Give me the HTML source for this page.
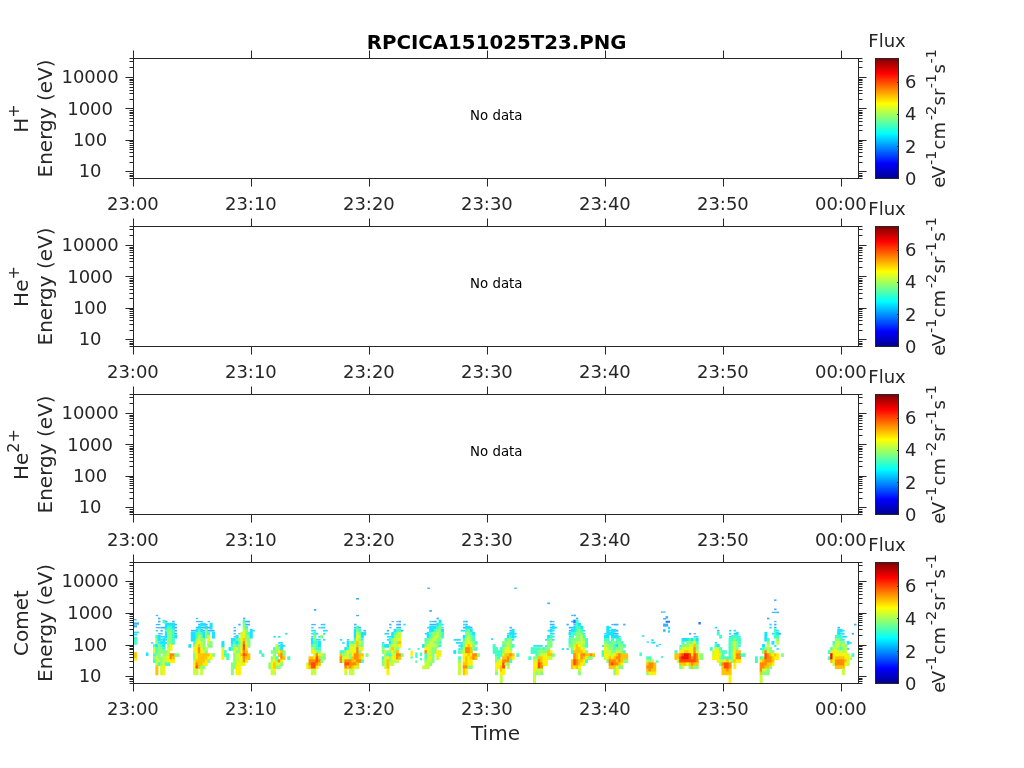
<!DOCTYPE html>
<html lang="en"><head><meta charset="utf-8"><title>RPCICA151025T23.PNG</title>
<style>html,body{margin:0;padding:0;background:#fff}body{width:1024px;height:768px;overflow:hidden}</style></head>
<body>
<svg width="1024" height="768" viewBox="0 0 1024 768" style="display:block;will-change:transform;font-family:'DejaVu Sans', 'Liberation Sans', sans-serif">
<defs><linearGradient id="jet" x1="0" y1="1" x2="0" y2="0">
<stop offset="0" stop-color="#000090"/>
<stop offset="0.125" stop-color="#0000ff"/>
<stop offset="0.375" stop-color="#00ffff"/>
<stop offset="0.625" stop-color="#ffff00"/>
<stop offset="0.875" stop-color="#ff0000"/>
<stop offset="1" stop-color="#800000"/>
</linearGradient></defs>
<rect width="1024" height="768" fill="#fff"/>
<text x="496.6" y="48.6" text-anchor="middle" font-size="19.8" font-weight="bold" fill="#000">RPCICA151025T23.PNG</text>
<g><g stroke="#262626" stroke-width="1" fill="none"><rect x="133.5" y="58.5" width="725" height="120"/><path d="M133.5 58.5v-8M133.5 178.5v8M251.5 58.5v-8M251.5 178.5v8M369.5 58.5v-8M369.5 178.5v8M487.5 58.5v-8M487.5 178.5v8M605.5 58.5v-8M605.5 178.5v8M723.5 58.5v-8M723.5 178.5v8M841.5 58.5v-8M841.5 178.5v8M133.5 178.5h-4M858.5 178.5h4M133.5 176.5h-4M858.5 176.5h4M133.5 175.5h-4M858.5 175.5h4M133.5 173.5h-4M858.5 173.5h4M133.5 171.5h-8M858.5 171.5h8M133.5 162.5h-4M858.5 162.5h4M133.5 156.5h-4M858.5 156.5h4M133.5 152.5h-4M858.5 152.5h4M133.5 149.5h-4M858.5 149.5h4M133.5 147.5h-4M858.5 147.5h4M133.5 145.5h-4M858.5 145.5h4M133.5 143.5h-4M858.5 143.5h4M133.5 141.5h-4M858.5 141.5h4M133.5 140.5h-8M858.5 140.5h8M133.5 130.5h-4M858.5 130.5h4M133.5 125.5h-4M858.5 125.5h4M133.5 121.5h-4M858.5 121.5h4M133.5 118.5h-4M858.5 118.5h4M133.5 115.5h-4M858.5 115.5h4M133.5 113.5h-4M858.5 113.5h4M133.5 112.5h-4M858.5 112.5h4M133.5 110.5h-4M858.5 110.5h4M133.5 108.5h-8M858.5 108.5h8M133.5 99.5h-4M858.5 99.5h4M133.5 93.5h-4M858.5 93.5h4M133.5 90.5h-4M858.5 90.5h4M133.5 87.5h-4M858.5 87.5h4M133.5 84.5h-4M858.5 84.5h4M133.5 82.5h-4M858.5 82.5h4M133.5 80.5h-4M858.5 80.5h4M133.5 79.5h-4M858.5 79.5h4M133.5 77.5h-8M858.5 77.5h8M133.5 67.5h-4M858.5 67.5h4M133.5 61.5h-4M858.5 61.5h4M133.5 58.5h-4M858.5 58.5h4"/></g><g fill="#262626" font-size="18"><text x="132.9" y="210.3" text-anchor="middle">23:00</text><text x="250.9" y="210.3" text-anchor="middle">23:10</text><text x="368.9" y="210.3" text-anchor="middle">23:20</text><text x="486.9" y="210.3" text-anchor="middle">23:30</text><text x="604.9" y="210.3" text-anchor="middle">23:40</text><text x="722.9" y="210.3" text-anchor="middle">23:50</text><text x="840.9" y="210.3" text-anchor="middle">00:00</text><text x="90.1" y="83.29" text-anchor="middle">10000</text><text x="90.1" y="114.67" text-anchor="middle">1000</text><text x="90.1" y="146.05" text-anchor="middle">100</text><text x="90.1" y="177.43" text-anchor="middle">10</text></g><g fill="#262626" font-size="20" text-anchor="middle"><text transform="translate(27.5 118.5) rotate(-90)">H<tspan font-size="16" dy="-8.7">+</tspan></text><text transform="translate(51.8 118.5) rotate(-90)">Energy (eV)</text></g><text x="496.3" y="119.9" text-anchor="middle" font-size="13.33" fill="#000">No data</text><rect x="875.5" y="58.5" width="23" height="120" fill="url(#jet)" stroke="#262626" stroke-width="1"/><text x="887" y="46.9" text-anchor="middle" font-size="18" fill="#262626">Flux</text><text x="905" y="184.8" font-size="18" fill="#262626">0</text><text x="905" y="153.26" font-size="18" fill="#262626">2</text><text x="905" y="120.12" font-size="18" fill="#262626">4</text><text x="905" y="87.78" font-size="18" fill="#262626">6</text><path d="M898.5 178.5h-1.5M898.5 146.5h-1.5M898.5 114.5h-1.5M898.5 82.5h-1.5" stroke="#262626" stroke-width="1" fill="none"/><text transform="translate(945.3 187.8) rotate(-90)" font-size="18" fill="#262626">e<tspan dx="-1.5">V</tspan><tspan font-size="14.4" dx="0.95" dy="-9.3">-1</tspan><tspan dx="1.2" dy="9.3">cm</tspan><tspan font-size="14.4" dx="1.7" dy="-9.3">-2</tspan><tspan dx="0.45" dy="9.3">sr</tspan><tspan font-size="14.4" dx="0.45" dy="-9.3">-1</tspan><tspan dx="0.45" dy="9.3">s</tspan><tspan font-size="14.4" dx="0.45" dy="-9.3">-1</tspan></text></g>
<g><g stroke="#262626" stroke-width="1" fill="none"><rect x="133.5" y="226.5" width="725" height="120"/><path d="M133.5 226.5v-8M133.5 346.5v8M251.5 226.5v-8M251.5 346.5v8M369.5 226.5v-8M369.5 346.5v8M487.5 226.5v-8M487.5 346.5v8M605.5 226.5v-8M605.5 346.5v8M723.5 226.5v-8M723.5 346.5v8M841.5 226.5v-8M841.5 346.5v8M133.5 346.5h-4M858.5 346.5h4M133.5 344.5h-4M858.5 344.5h4M133.5 343.5h-4M858.5 343.5h4M133.5 341.5h-4M858.5 341.5h4M133.5 339.5h-8M858.5 339.5h8M133.5 330.5h-4M858.5 330.5h4M133.5 324.5h-4M858.5 324.5h4M133.5 320.5h-4M858.5 320.5h4M133.5 317.5h-4M858.5 317.5h4M133.5 315.5h-4M858.5 315.5h4M133.5 313.5h-4M858.5 313.5h4M133.5 311.5h-4M858.5 311.5h4M133.5 309.5h-4M858.5 309.5h4M133.5 308.5h-8M858.5 308.5h8M133.5 298.5h-4M858.5 298.5h4M133.5 293.5h-4M858.5 293.5h4M133.5 289.5h-4M858.5 289.5h4M133.5 286.5h-4M858.5 286.5h4M133.5 283.5h-4M858.5 283.5h4M133.5 281.5h-4M858.5 281.5h4M133.5 280.5h-4M858.5 280.5h4M133.5 278.5h-4M858.5 278.5h4M133.5 276.5h-8M858.5 276.5h8M133.5 267.5h-4M858.5 267.5h4M133.5 261.5h-4M858.5 261.5h4M133.5 258.5h-4M858.5 258.5h4M133.5 255.5h-4M858.5 255.5h4M133.5 252.5h-4M858.5 252.5h4M133.5 250.5h-4M858.5 250.5h4M133.5 248.5h-4M858.5 248.5h4M133.5 247.5h-4M858.5 247.5h4M133.5 245.5h-8M858.5 245.5h8M133.5 235.5h-4M858.5 235.5h4M133.5 229.5h-4M858.5 229.5h4M133.5 226.5h-4M858.5 226.5h4"/></g><g fill="#262626" font-size="18"><text x="132.9" y="378.3" text-anchor="middle">23:00</text><text x="250.9" y="378.3" text-anchor="middle">23:10</text><text x="368.9" y="378.3" text-anchor="middle">23:20</text><text x="486.9" y="378.3" text-anchor="middle">23:30</text><text x="604.9" y="378.3" text-anchor="middle">23:40</text><text x="722.9" y="378.3" text-anchor="middle">23:50</text><text x="840.9" y="378.3" text-anchor="middle">00:00</text><text x="90.1" y="251.29" text-anchor="middle">10000</text><text x="90.1" y="282.67" text-anchor="middle">1000</text><text x="90.1" y="314.05" text-anchor="middle">100</text><text x="90.1" y="345.43" text-anchor="middle">10</text></g><g fill="#262626" font-size="20" text-anchor="middle"><text transform="translate(27.5 286.5) rotate(-90)">He<tspan font-size="16" dy="-8.7">+</tspan></text><text transform="translate(51.8 286.5) rotate(-90)">Energy (eV)</text></g><text x="496.3" y="287.9" text-anchor="middle" font-size="13.33" fill="#000">No data</text><rect x="875.5" y="226.5" width="23" height="120" fill="url(#jet)" stroke="#262626" stroke-width="1"/><text x="887" y="214.9" text-anchor="middle" font-size="18" fill="#262626">Flux</text><text x="905" y="352.8" font-size="18" fill="#262626">0</text><text x="905" y="321.26" font-size="18" fill="#262626">2</text><text x="905" y="288.12" font-size="18" fill="#262626">4</text><text x="905" y="255.78" font-size="18" fill="#262626">6</text><path d="M898.5 346.5h-1.5M898.5 314.5h-1.5M898.5 282.5h-1.5M898.5 250.5h-1.5" stroke="#262626" stroke-width="1" fill="none"/><text transform="translate(945.3 355.8) rotate(-90)" font-size="18" fill="#262626">e<tspan dx="-1.5">V</tspan><tspan font-size="14.4" dx="0.95" dy="-9.3">-1</tspan><tspan dx="1.2" dy="9.3">cm</tspan><tspan font-size="14.4" dx="1.7" dy="-9.3">-2</tspan><tspan dx="0.45" dy="9.3">sr</tspan><tspan font-size="14.4" dx="0.45" dy="-9.3">-1</tspan><tspan dx="0.45" dy="9.3">s</tspan><tspan font-size="14.4" dx="0.45" dy="-9.3">-1</tspan></text></g>
<g><g stroke="#262626" stroke-width="1" fill="none"><rect x="133.5" y="394.5" width="725" height="120"/><path d="M133.5 394.5v-8M133.5 514.5v8M251.5 394.5v-8M251.5 514.5v8M369.5 394.5v-8M369.5 514.5v8M487.5 394.5v-8M487.5 514.5v8M605.5 394.5v-8M605.5 514.5v8M723.5 394.5v-8M723.5 514.5v8M841.5 394.5v-8M841.5 514.5v8M133.5 514.5h-4M858.5 514.5h4M133.5 512.5h-4M858.5 512.5h4M133.5 511.5h-4M858.5 511.5h4M133.5 509.5h-4M858.5 509.5h4M133.5 507.5h-8M858.5 507.5h8M133.5 498.5h-4M858.5 498.5h4M133.5 492.5h-4M858.5 492.5h4M133.5 488.5h-4M858.5 488.5h4M133.5 485.5h-4M858.5 485.5h4M133.5 483.5h-4M858.5 483.5h4M133.5 481.5h-4M858.5 481.5h4M133.5 479.5h-4M858.5 479.5h4M133.5 477.5h-4M858.5 477.5h4M133.5 476.5h-8M858.5 476.5h8M133.5 466.5h-4M858.5 466.5h4M133.5 461.5h-4M858.5 461.5h4M133.5 457.5h-4M858.5 457.5h4M133.5 454.5h-4M858.5 454.5h4M133.5 451.5h-4M858.5 451.5h4M133.5 449.5h-4M858.5 449.5h4M133.5 448.5h-4M858.5 448.5h4M133.5 446.5h-4M858.5 446.5h4M133.5 444.5h-8M858.5 444.5h8M133.5 435.5h-4M858.5 435.5h4M133.5 429.5h-4M858.5 429.5h4M133.5 426.5h-4M858.5 426.5h4M133.5 423.5h-4M858.5 423.5h4M133.5 420.5h-4M858.5 420.5h4M133.5 418.5h-4M858.5 418.5h4M133.5 416.5h-4M858.5 416.5h4M133.5 415.5h-4M858.5 415.5h4M133.5 413.5h-8M858.5 413.5h8M133.5 403.5h-4M858.5 403.5h4M133.5 397.5h-4M858.5 397.5h4M133.5 394.5h-4M858.5 394.5h4"/></g><g fill="#262626" font-size="18"><text x="132.9" y="546.3" text-anchor="middle">23:00</text><text x="250.9" y="546.3" text-anchor="middle">23:10</text><text x="368.9" y="546.3" text-anchor="middle">23:20</text><text x="486.9" y="546.3" text-anchor="middle">23:30</text><text x="604.9" y="546.3" text-anchor="middle">23:40</text><text x="722.9" y="546.3" text-anchor="middle">23:50</text><text x="840.9" y="546.3" text-anchor="middle">00:00</text><text x="90.1" y="419.29" text-anchor="middle">10000</text><text x="90.1" y="450.67" text-anchor="middle">1000</text><text x="90.1" y="482.05" text-anchor="middle">100</text><text x="90.1" y="513.43" text-anchor="middle">10</text></g><g fill="#262626" font-size="20" text-anchor="middle"><text transform="translate(27.5 454.5) rotate(-90)">He<tspan font-size="16" dy="-8.7">2+</tspan></text><text transform="translate(51.8 454.5) rotate(-90)">Energy (eV)</text></g><text x="496.3" y="455.9" text-anchor="middle" font-size="13.33" fill="#000">No data</text><rect x="875.5" y="394.5" width="23" height="120" fill="url(#jet)" stroke="#262626" stroke-width="1"/><text x="887" y="382.9" text-anchor="middle" font-size="18" fill="#262626">Flux</text><text x="905" y="520.8" font-size="18" fill="#262626">0</text><text x="905" y="489.26" font-size="18" fill="#262626">2</text><text x="905" y="456.12" font-size="18" fill="#262626">4</text><text x="905" y="423.78" font-size="18" fill="#262626">6</text><path d="M898.5 514.5h-1.5M898.5 482.5h-1.5M898.5 450.5h-1.5M898.5 418.5h-1.5" stroke="#262626" stroke-width="1" fill="none"/><text transform="translate(945.3 523.8) rotate(-90)" font-size="18" fill="#262626">e<tspan dx="-1.5">V</tspan><tspan font-size="14.4" dx="0.95" dy="-9.3">-1</tspan><tspan dx="1.2" dy="9.3">cm</tspan><tspan font-size="14.4" dx="1.7" dy="-9.3">-2</tspan><tspan dx="0.45" dy="9.3">sr</tspan><tspan font-size="14.4" dx="0.45" dy="-9.3">-1</tspan><tspan dx="0.45" dy="9.3">s</tspan><tspan font-size="14.4" dx="0.45" dy="-9.3">-1</tspan></text></g>
<g><g><rect x="155.72" y="614.8" width="2.36" height="1.3" fill="#48b6ff"/><rect x="158.08" y="617.65" width="2.36" height="1.7" fill="#38b0ff"/><rect x="158.08" y="620.7" width="2.36" height="1.7" fill="#38b0ff"/><rect x="162.5" y="619.7" width="2.96" height="3.65" fill="#40ffc4"/><rect x="165.16" y="620.7" width="2.36" height="1.7" fill="#38b0ff"/><rect x="172.24" y="620.7" width="2.36" height="1.7" fill="#38b0ff"/><rect x="155.72" y="623.95" width="4.72" height="1.3" fill="#48b6ff"/><rect x="164.86" y="622.75" width="10.04" height="3.65" fill="#18e4ff"/><rect x="174.6" y="623.75" width="2.36" height="1.7" fill="#38b0ff"/><rect x="155.72" y="627" width="4.72" height="1.3" fill="#48b6ff"/><rect x="160.44" y="626.8" width="4.72" height="1.7" fill="#38b0ff"/><rect x="164.86" y="625.8" width="2.96" height="3.65" fill="#18e4ff"/><rect x="167.22" y="625.8" width="5.32" height="3.65" fill="#40ffc4"/><rect x="171.94" y="625.8" width="2.96" height="3.65" fill="#18e4ff"/><rect x="174.6" y="626.8" width="2.36" height="1.7" fill="#38b0ff"/><rect x="155.72" y="630.05" width="2.36" height="1.3" fill="#48b6ff"/><rect x="160.44" y="629.85" width="2.36" height="1.7" fill="#38b0ff"/><rect x="164.86" y="628.85" width="2.96" height="3.65" fill="#40ffc4"/><rect x="167.22" y="628.85" width="5.32" height="3.65" fill="#86ff7a"/><rect x="171.94" y="628.85" width="2.96" height="3.65" fill="#40ffc4"/><rect x="174.6" y="629.85" width="2.36" height="1.7" fill="#38b0ff"/><rect x="158.08" y="633.1" width="4.72" height="1.3" fill="#48b6ff"/><rect x="164.86" y="631.9" width="2.96" height="3.65" fill="#18e4ff"/><rect x="167.22" y="631.9" width="5.32" height="3.65" fill="#86ff7a"/><rect x="171.94" y="631.9" width="2.96" height="3.65" fill="#40ffc4"/><rect x="174.6" y="632.9" width="2.36" height="1.7" fill="#38b0ff"/><rect x="155.42" y="634.95" width="2.96" height="3.65" fill="#40ffc4"/><rect x="157.78" y="634.95" width="2.96" height="3.65" fill="#18e4ff"/><rect x="160.44" y="635.95" width="4.72" height="1.7" fill="#20e0ff"/><rect x="164.86" y="634.95" width="2.96" height="3.65" fill="#18e4ff"/><rect x="167.22" y="634.95" width="5.32" height="3.65" fill="#86ff7a"/><rect x="171.94" y="634.95" width="2.96" height="3.65" fill="#40ffc4"/><rect x="174.3" y="634.95" width="2.96" height="3.65" fill="#18e4ff"/><rect x="155.42" y="638" width="2.96" height="3.65" fill="#86ff7a"/><rect x="157.78" y="638" width="2.96" height="3.65" fill="#18e4ff"/><rect x="160.44" y="639" width="2.36" height="1.7" fill="#20e0ff"/><rect x="162.5" y="638" width="2.96" height="3.65" fill="#18e4ff"/><rect x="165.16" y="639" width="2.36" height="1.7" fill="#20e0ff"/><rect x="167.22" y="638" width="5.32" height="3.65" fill="#86ff7a"/><rect x="171.94" y="638" width="2.96" height="3.65" fill="#40ffc4"/><rect x="151" y="642.25" width="2.36" height="1.3" fill="#48b6ff"/><rect x="155.42" y="641.05" width="2.96" height="3.65" fill="#86ff7a"/><rect x="158.08" y="642.05" width="2.36" height="1.7" fill="#20e0ff"/><rect x="160.14" y="641.05" width="5.32" height="3.65" fill="#18e4ff"/><rect x="165.16" y="642.05" width="2.36" height="1.7" fill="#20e0ff"/><rect x="167.22" y="641.05" width="5.32" height="3.65" fill="#86ff7a"/><rect x="171.94" y="641.05" width="2.96" height="3.65" fill="#40ffc4"/><rect x="153.06" y="644.1" width="2.96" height="3.65" fill="#40ffc4"/><rect x="155.42" y="644.1" width="2.96" height="3.65" fill="#18e4ff"/><rect x="157.78" y="644.1" width="2.96" height="3.65" fill="#86ff7a"/><rect x="160.14" y="644.1" width="2.96" height="3.65" fill="#40ffc4"/><rect x="162.5" y="644.1" width="2.96" height="3.65" fill="#18e4ff"/><rect x="167.22" y="644.1" width="2.96" height="3.65" fill="#86ff7a"/><rect x="169.58" y="644.1" width="2.96" height="3.65" fill="#fff200"/><rect x="153.06" y="647.15" width="2.96" height="3.65" fill="#c4ff3c"/><rect x="155.42" y="647.15" width="2.96" height="3.65" fill="#40ffc4"/><rect x="157.78" y="647.15" width="5.32" height="3.65" fill="#86ff7a"/><rect x="162.5" y="647.15" width="2.96" height="3.65" fill="#40ffc4"/><rect x="167.22" y="647.15" width="2.96" height="3.65" fill="#c4ff3c"/><rect x="169.58" y="647.15" width="2.96" height="3.65" fill="#fff200"/><rect x="153.06" y="650.2" width="2.96" height="3.65" fill="#fff200"/><rect x="155.42" y="650.2" width="2.96" height="3.65" fill="#40ffc4"/><rect x="157.78" y="650.2" width="10.04" height="3.65" fill="#86ff7a"/><rect x="167.22" y="650.2" width="2.96" height="3.65" fill="#c4ff3c"/><rect x="153.06" y="653.25" width="2.96" height="3.65" fill="#40ffc4"/><rect x="155.42" y="653.25" width="5.32" height="3.65" fill="#86ff7a"/><rect x="162.5" y="653.25" width="2.96" height="3.65" fill="#86ff7a"/><rect x="164.86" y="653.25" width="5.32" height="3.65" fill="#c4ff3c"/><rect x="169.58" y="653.25" width="5.32" height="3.65" fill="#ff8a00"/><rect x="174.3" y="653.25" width="5.32" height="3.65" fill="#86ff7a"/><rect x="153.06" y="656.3" width="2.96" height="3.65" fill="#86ff7a"/><rect x="155.42" y="656.3" width="2.96" height="3.65" fill="#c4ff3c"/><rect x="157.78" y="656.3" width="5.32" height="3.65" fill="#86ff7a"/><rect x="162.5" y="656.3" width="5.32" height="3.65" fill="#c4ff3c"/><rect x="167.22" y="656.3" width="2.96" height="3.65" fill="#fff200"/><rect x="169.58" y="656.3" width="2.96" height="3.65" fill="#ff8a00"/><rect x="171.94" y="656.3" width="2.96" height="3.65" fill="#ffc400"/><rect x="153.06" y="659.35" width="2.96" height="3.65" fill="#40ffc4"/><rect x="155.42" y="659.35" width="5.32" height="3.65" fill="#c4ff3c"/><rect x="160.14" y="659.35" width="2.96" height="3.65" fill="#86ff7a"/><rect x="162.5" y="659.35" width="5.32" height="3.65" fill="#c4ff3c"/><rect x="167.22" y="659.35" width="7.68" height="3.65" fill="#fff200"/><rect x="155.42" y="662.4" width="2.96" height="3.65" fill="#c4ff3c"/><rect x="157.78" y="662.4" width="2.96" height="3.65" fill="#40ffc4"/><rect x="160.14" y="662.4" width="2.96" height="3.65" fill="#86ff7a"/><rect x="162.5" y="662.4" width="2.96" height="3.65" fill="#c4ff3c"/><rect x="164.86" y="662.4" width="5.32" height="3.65" fill="#40ffc4"/><rect x="155.42" y="665.45" width="2.96" height="3.65" fill="#ffc400"/><rect x="160.14" y="665.45" width="2.96" height="3.65" fill="#c4ff3c"/><rect x="162.5" y="665.45" width="2.96" height="3.65" fill="#fff200"/><rect x="155.42" y="668.5" width="2.96" height="3.65" fill="#ffc400"/><rect x="160.14" y="668.5" width="2.96" height="3.65" fill="#c4ff3c"/><rect x="162.5" y="668.5" width="2.96" height="3.65" fill="#fff200"/><rect x="155.42" y="671.55" width="2.96" height="3.65" fill="#ffc400"/><rect x="160.14" y="671.55" width="2.96" height="3.65" fill="#c4ff3c"/><rect x="162.5" y="671.55" width="2.96" height="3.65" fill="#fff200"/><rect x="195.78" y="617.85" width="2.36" height="1.3" fill="#48b6ff"/><rect x="195.78" y="620.9" width="7.08" height="1.3" fill="#48b6ff"/><rect x="207.58" y="620.9" width="2.36" height="1.3" fill="#48b6ff"/><rect x="198.14" y="623.75" width="2.36" height="1.7" fill="#38b0ff"/><rect x="200.2" y="622.75" width="5.32" height="3.65" fill="#18e4ff"/><rect x="205.22" y="623.75" width="2.36" height="1.7" fill="#38b0ff"/><rect x="209.64" y="622.75" width="2.96" height="3.65" fill="#18e4ff"/><rect x="195.78" y="626.8" width="2.36" height="1.7" fill="#38b0ff"/><rect x="197.84" y="625.8" width="2.96" height="3.65" fill="#18e4ff"/><rect x="200.5" y="626.8" width="4.72" height="1.7" fill="#38b0ff"/><rect x="204.92" y="625.8" width="2.96" height="3.65" fill="#18e4ff"/><rect x="207.58" y="626.8" width="2.36" height="1.7" fill="#38b0ff"/><rect x="209.64" y="625.8" width="2.96" height="3.65" fill="#18e4ff"/><rect x="191.06" y="629.85" width="4.72" height="1.7" fill="#38b0ff"/><rect x="195.48" y="628.85" width="2.96" height="3.65" fill="#18e4ff"/><rect x="197.84" y="628.85" width="2.96" height="3.65" fill="#40ffc4"/><rect x="200.2" y="628.85" width="2.96" height="3.65" fill="#18e4ff"/><rect x="202.86" y="629.85" width="2.36" height="1.7" fill="#38b0ff"/><rect x="204.92" y="628.85" width="2.96" height="3.65" fill="#86ff7a"/><rect x="207.58" y="629.85" width="7.08" height="1.7" fill="#38b0ff"/><rect x="190.76" y="631.9" width="5.32" height="3.65" fill="#18e4ff"/><rect x="195.48" y="631.9" width="2.96" height="3.65" fill="#40ffc4"/><rect x="197.84" y="631.9" width="2.96" height="3.65" fill="#86ff7a"/><rect x="200.2" y="631.9" width="2.96" height="3.65" fill="#40ffc4"/><rect x="202.56" y="631.9" width="2.96" height="3.65" fill="#18e4ff"/><rect x="204.92" y="631.9" width="2.96" height="3.65" fill="#86ff7a"/><rect x="207.28" y="631.9" width="2.96" height="3.65" fill="#40ffc4"/><rect x="212" y="631.9" width="2.96" height="3.65" fill="#18e4ff"/><rect x="190.76" y="634.95" width="5.32" height="3.65" fill="#18e4ff"/><rect x="195.48" y="634.95" width="2.96" height="3.65" fill="#40ffc4"/><rect x="197.84" y="634.95" width="2.96" height="3.65" fill="#c4ff3c"/><rect x="200.2" y="634.95" width="2.96" height="3.65" fill="#86ff7a"/><rect x="202.56" y="634.95" width="2.96" height="3.65" fill="#18e4ff"/><rect x="204.92" y="634.95" width="2.96" height="3.65" fill="#86ff7a"/><rect x="207.28" y="634.95" width="2.96" height="3.65" fill="#c4ff3c"/><rect x="212" y="634.95" width="2.96" height="3.65" fill="#18e4ff"/><rect x="190.76" y="638" width="5.32" height="3.65" fill="#18e4ff"/><rect x="195.48" y="638" width="2.96" height="3.65" fill="#86ff7a"/><rect x="197.84" y="638" width="2.96" height="3.65" fill="#c4ff3c"/><rect x="200.2" y="638" width="5.32" height="3.65" fill="#86ff7a"/><rect x="207.28" y="638" width="2.96" height="3.65" fill="#fff200"/><rect x="193.12" y="641.05" width="2.96" height="3.65" fill="#40ffc4"/><rect x="195.48" y="641.05" width="2.96" height="3.65" fill="#c4ff3c"/><rect x="197.84" y="641.05" width="2.96" height="3.65" fill="#fff200"/><rect x="200.2" y="641.05" width="2.96" height="3.65" fill="#c4ff3c"/><rect x="202.56" y="641.05" width="2.96" height="3.65" fill="#86ff7a"/><rect x="207.28" y="641.05" width="2.96" height="3.65" fill="#c4ff3c"/><rect x="209.64" y="641.05" width="2.96" height="3.65" fill="#86ff7a"/><rect x="188.4" y="644.1" width="2.96" height="3.65" fill="#18e4ff"/><rect x="193.12" y="644.1" width="2.96" height="3.65" fill="#86ff7a"/><rect x="195.48" y="644.1" width="2.96" height="3.65" fill="#fff200"/><rect x="197.84" y="644.1" width="2.96" height="3.65" fill="#ffc400"/><rect x="200.2" y="644.1" width="2.96" height="3.65" fill="#c4ff3c"/><rect x="202.56" y="644.1" width="2.96" height="3.65" fill="#86ff7a"/><rect x="207.28" y="644.1" width="5.32" height="3.65" fill="#86ff7a"/><rect x="193.12" y="647.15" width="5.32" height="3.65" fill="#fff200"/><rect x="197.84" y="647.15" width="2.96" height="3.65" fill="#ff8a00"/><rect x="200.2" y="647.15" width="2.96" height="3.65" fill="#fff200"/><rect x="202.56" y="647.15" width="2.96" height="3.65" fill="#86ff7a"/><rect x="204.92" y="647.15" width="2.96" height="3.65" fill="#c4ff3c"/><rect x="193.12" y="650.2" width="2.96" height="3.65" fill="#c4ff3c"/><rect x="195.48" y="650.2" width="2.96" height="3.65" fill="#fff200"/><rect x="197.84" y="650.2" width="2.96" height="3.65" fill="#ff8a00"/><rect x="200.2" y="650.2" width="2.96" height="3.65" fill="#fff200"/><rect x="202.56" y="650.2" width="2.96" height="3.65" fill="#c4ff3c"/><rect x="204.92" y="650.2" width="2.96" height="3.65" fill="#86ff7a"/><rect x="193.12" y="653.25" width="2.96" height="3.65" fill="#86ff7a"/><rect x="195.48" y="653.25" width="2.96" height="3.65" fill="#fff200"/><rect x="197.84" y="653.25" width="12.4" height="3.65" fill="#ffc400"/><rect x="209.64" y="653.25" width="2.96" height="3.65" fill="#fff200"/><rect x="212" y="653.25" width="2.96" height="3.65" fill="#86ff7a"/><rect x="193.12" y="656.3" width="2.96" height="3.65" fill="#86ff7a"/><rect x="195.48" y="656.3" width="2.96" height="3.65" fill="#fff200"/><rect x="197.84" y="656.3" width="10.04" height="3.65" fill="#ffc400"/><rect x="207.28" y="656.3" width="5.32" height="3.65" fill="#fff200"/><rect x="193.12" y="659.35" width="2.96" height="3.65" fill="#c4ff3c"/><rect x="195.48" y="659.35" width="10.04" height="3.65" fill="#ffc400"/><rect x="204.92" y="659.35" width="2.96" height="3.65" fill="#fff200"/><rect x="207.28" y="659.35" width="2.96" height="3.65" fill="#86ff7a"/><rect x="193.12" y="662.4" width="2.96" height="3.65" fill="#fff200"/><rect x="195.48" y="662.4" width="2.96" height="3.65" fill="#ff8a00"/><rect x="197.84" y="662.4" width="5.32" height="3.65" fill="#ffc400"/><rect x="202.56" y="662.4" width="5.32" height="3.65" fill="#fff200"/><rect x="193.12" y="665.45" width="2.96" height="3.65" fill="#fff200"/><rect x="195.48" y="665.45" width="2.96" height="3.65" fill="#ff4a00"/><rect x="197.84" y="665.45" width="2.96" height="3.65" fill="#ffc400"/><rect x="200.2" y="665.45" width="5.32" height="3.65" fill="#86ff7a"/><rect x="193.12" y="668.5" width="5.32" height="3.65" fill="#c4ff3c"/><rect x="200.2" y="668.5" width="2.96" height="3.65" fill="#c4ff3c"/><rect x="193.12" y="671.55" width="5.32" height="3.65" fill="#c4ff3c"/><rect x="200.2" y="671.55" width="2.96" height="3.65" fill="#c4ff3c"/><rect x="242.99" y="617.65" width="2.36" height="1.7" fill="#38b0ff"/><rect x="242.69" y="619.7" width="2.96" height="3.65" fill="#40ffc4"/><rect x="245.35" y="620.7" width="4.72" height="1.7" fill="#38b0ff"/><rect x="238.27" y="623.75" width="2.36" height="1.7" fill="#38b0ff"/><rect x="242.69" y="622.75" width="2.96" height="3.65" fill="#86ff7a"/><rect x="245.35" y="623.75" width="4.72" height="1.7" fill="#38b0ff"/><rect x="233.55" y="627" width="2.36" height="1.3" fill="#48b6ff"/><rect x="242.69" y="625.8" width="2.96" height="3.65" fill="#86ff7a"/><rect x="245.05" y="625.8" width="2.96" height="3.65" fill="#40ffc4"/><rect x="233.55" y="629.85" width="2.36" height="1.7" fill="#38b0ff"/><rect x="242.69" y="628.85" width="2.96" height="3.65" fill="#c4ff3c"/><rect x="245.05" y="628.85" width="2.96" height="3.65" fill="#86ff7a"/><rect x="249.77" y="628.85" width="2.96" height="3.65" fill="#18e4ff"/><rect x="252.43" y="629.85" width="2.36" height="1.7" fill="#20e0ff"/><rect x="233.55" y="633.1" width="2.36" height="1.3" fill="#48b6ff"/><rect x="238.27" y="633.1" width="2.36" height="1.3" fill="#48b6ff"/><rect x="240.33" y="631.9" width="2.96" height="3.65" fill="#c4ff3c"/><rect x="242.69" y="631.9" width="2.96" height="3.65" fill="#fff200"/><rect x="245.05" y="631.9" width="2.96" height="3.65" fill="#86ff7a"/><rect x="247.41" y="631.9" width="2.96" height="3.65" fill="#40ffc4"/><rect x="249.77" y="631.9" width="2.96" height="3.65" fill="#18e4ff"/><rect x="233.55" y="636.15" width="2.36" height="1.3" fill="#48b6ff"/><rect x="235.61" y="634.95" width="2.96" height="3.65" fill="#18e4ff"/><rect x="240.33" y="634.95" width="2.96" height="3.65" fill="#c4ff3c"/><rect x="242.69" y="634.95" width="2.96" height="3.65" fill="#fff200"/><rect x="245.05" y="634.95" width="5.32" height="3.65" fill="#86ff7a"/><rect x="249.77" y="634.95" width="2.96" height="3.65" fill="#18e4ff"/><rect x="230.89" y="638" width="5.32" height="3.65" fill="#18e4ff"/><rect x="235.61" y="638" width="2.96" height="3.65" fill="#40ffc4"/><rect x="237.97" y="638" width="2.96" height="3.65" fill="#86ff7a"/><rect x="240.33" y="638" width="2.96" height="3.65" fill="#fff200"/><rect x="242.69" y="638" width="2.96" height="3.65" fill="#ffc400"/><rect x="245.05" y="638" width="5.32" height="3.65" fill="#86ff7a"/><rect x="221.45" y="641.05" width="2.96" height="3.65" fill="#18e4ff"/><rect x="230.89" y="641.05" width="2.96" height="3.65" fill="#18e4ff"/><rect x="233.25" y="641.05" width="2.96" height="3.65" fill="#40ffc4"/><rect x="235.61" y="641.05" width="2.96" height="3.65" fill="#18e4ff"/><rect x="237.97" y="641.05" width="2.96" height="3.65" fill="#40ffc4"/><rect x="240.33" y="641.05" width="2.96" height="3.65" fill="#c4ff3c"/><rect x="242.69" y="641.05" width="2.96" height="3.65" fill="#ff8a00"/><rect x="245.05" y="641.05" width="2.96" height="3.65" fill="#c4ff3c"/><rect x="247.41" y="641.05" width="2.96" height="3.65" fill="#86ff7a"/><rect x="221.45" y="644.1" width="2.96" height="3.65" fill="#18e4ff"/><rect x="230.89" y="644.1" width="2.96" height="3.65" fill="#40ffc4"/><rect x="233.25" y="644.1" width="2.96" height="3.65" fill="#86ff7a"/><rect x="235.61" y="644.1" width="2.96" height="3.65" fill="#40ffc4"/><rect x="237.97" y="644.1" width="2.96" height="3.65" fill="#86ff7a"/><rect x="240.33" y="644.1" width="2.96" height="3.65" fill="#c4ff3c"/><rect x="242.69" y="644.1" width="2.96" height="3.65" fill="#ff4a00"/><rect x="245.05" y="644.1" width="2.96" height="3.65" fill="#fff200"/><rect x="247.41" y="644.1" width="2.96" height="3.65" fill="#86ff7a"/><rect x="221.45" y="647.15" width="2.96" height="3.65" fill="#c4ff3c"/><rect x="228.53" y="647.15" width="2.96" height="3.65" fill="#18e4ff"/><rect x="230.89" y="647.15" width="2.96" height="3.65" fill="#40ffc4"/><rect x="233.25" y="647.15" width="2.96" height="3.65" fill="#c4ff3c"/><rect x="235.61" y="647.15" width="2.96" height="3.65" fill="#fff200"/><rect x="237.97" y="647.15" width="2.96" height="3.65" fill="#86ff7a"/><rect x="240.33" y="647.15" width="2.96" height="3.65" fill="#fff200"/><rect x="242.69" y="647.15" width="2.96" height="3.65" fill="#ff4a00"/><rect x="245.05" y="647.15" width="2.96" height="3.65" fill="#fff200"/><rect x="221.45" y="650.2" width="2.96" height="3.65" fill="#fff200"/><rect x="223.81" y="650.2" width="2.96" height="3.65" fill="#40ffc4"/><rect x="233.25" y="650.2" width="2.96" height="3.65" fill="#c4ff3c"/><rect x="235.61" y="650.2" width="5.32" height="3.65" fill="#86ff7a"/><rect x="240.33" y="650.2" width="2.96" height="3.65" fill="#fff200"/><rect x="242.69" y="650.2" width="2.96" height="3.65" fill="#ff8a00"/><rect x="245.05" y="650.2" width="2.96" height="3.65" fill="#ffc400"/><rect x="221.45" y="653.25" width="2.96" height="3.65" fill="#fff200"/><rect x="223.81" y="653.25" width="5.32" height="3.65" fill="#40ffc4"/><rect x="233.25" y="653.25" width="2.96" height="3.65" fill="#86ff7a"/><rect x="235.61" y="653.25" width="5.32" height="3.65" fill="#c4ff3c"/><rect x="240.33" y="653.25" width="2.96" height="3.65" fill="#ffc400"/><rect x="242.69" y="653.25" width="2.96" height="3.65" fill="#ff4a00"/><rect x="245.05" y="653.25" width="2.96" height="3.65" fill="#ff8a00"/><rect x="247.41" y="653.25" width="2.96" height="3.65" fill="#ffc400"/><rect x="221.45" y="656.3" width="2.96" height="3.65" fill="#fff200"/><rect x="226.17" y="656.3" width="2.96" height="3.65" fill="#40ffc4"/><rect x="233.25" y="656.3" width="2.96" height="3.65" fill="#86ff7a"/><rect x="235.61" y="656.3" width="5.32" height="3.65" fill="#c4ff3c"/><rect x="240.33" y="656.3" width="2.96" height="3.65" fill="#fff200"/><rect x="242.69" y="656.3" width="2.96" height="3.65" fill="#ff8a00"/><rect x="245.05" y="656.3" width="5.32" height="3.65" fill="#ffc400"/><rect x="233.25" y="659.35" width="2.96" height="3.65" fill="#86ff7a"/><rect x="235.61" y="659.35" width="5.32" height="3.65" fill="#c4ff3c"/><rect x="240.33" y="659.35" width="2.96" height="3.65" fill="#fff200"/><rect x="242.69" y="659.35" width="2.96" height="3.65" fill="#ff8a00"/><rect x="245.05" y="659.35" width="2.96" height="3.65" fill="#fff200"/><rect x="230.89" y="662.4" width="5.32" height="3.65" fill="#86ff7a"/><rect x="235.61" y="662.4" width="2.96" height="3.65" fill="#c4ff3c"/><rect x="237.97" y="662.4" width="2.96" height="3.65" fill="#fff200"/><rect x="240.33" y="662.4" width="2.96" height="3.65" fill="#c4ff3c"/><rect x="242.69" y="662.4" width="2.96" height="3.65" fill="#fff200"/><rect x="230.89" y="665.45" width="5.32" height="3.65" fill="#86ff7a"/><rect x="235.61" y="665.45" width="5.32" height="3.65" fill="#fff200"/><rect x="230.89" y="668.5" width="2.96" height="3.65" fill="#86ff7a"/><rect x="235.61" y="668.5" width="5.32" height="3.65" fill="#fff200"/><rect x="230.89" y="671.55" width="2.96" height="3.65" fill="#86ff7a"/><rect x="235.61" y="671.55" width="5.32" height="3.65" fill="#fff200"/><rect x="285.21" y="632.9" width="2.36" height="1.7" fill="#20e0ff"/><rect x="273.41" y="635.95" width="2.36" height="1.7" fill="#20e0ff"/><rect x="278.13" y="635.95" width="2.36" height="1.7" fill="#20e0ff"/><rect x="278.13" y="642.05" width="4.72" height="1.7" fill="#20e0ff"/><rect x="275.47" y="644.1" width="2.96" height="3.65" fill="#c4ff3c"/><rect x="278.13" y="645.1" width="2.36" height="1.7" fill="#20e0ff"/><rect x="280.19" y="644.1" width="2.96" height="3.65" fill="#18e4ff"/><rect x="282.85" y="645.1" width="2.36" height="1.7" fill="#20e0ff"/><rect x="273.11" y="647.15" width="2.96" height="3.65" fill="#40ffc4"/><rect x="275.47" y="647.15" width="2.96" height="3.65" fill="#c4ff3c"/><rect x="277.83" y="647.15" width="2.96" height="3.65" fill="#86ff7a"/><rect x="280.19" y="647.15" width="2.96" height="3.65" fill="#18e4ff"/><rect x="258.95" y="650.2" width="2.96" height="3.65" fill="#40ffc4"/><rect x="270.75" y="650.2" width="7.68" height="3.65" fill="#86ff7a"/><rect x="277.83" y="650.2" width="2.96" height="3.65" fill="#fff200"/><rect x="280.19" y="650.2" width="2.96" height="3.65" fill="#ffc400"/><rect x="282.55" y="650.2" width="2.96" height="3.65" fill="#86ff7a"/><rect x="261.31" y="653.25" width="2.96" height="3.65" fill="#40ffc4"/><rect x="273.11" y="653.25" width="2.96" height="3.65" fill="#86ff7a"/><rect x="277.83" y="653.25" width="2.96" height="3.65" fill="#ffc400"/><rect x="280.19" y="653.25" width="2.96" height="3.65" fill="#ff8a00"/><rect x="282.55" y="653.25" width="2.96" height="3.65" fill="#86ff7a"/><rect x="270.75" y="656.3" width="2.96" height="3.65" fill="#86ff7a"/><rect x="273.11" y="656.3" width="2.96" height="3.65" fill="#c4ff3c"/><rect x="275.47" y="656.3" width="2.96" height="3.65" fill="#40ffc4"/><rect x="280.19" y="656.3" width="2.96" height="3.65" fill="#ff8a00"/><rect x="282.55" y="656.3" width="2.96" height="3.65" fill="#ffc400"/><rect x="287.27" y="656.3" width="2.96" height="3.65" fill="#40ffc4"/><rect x="270.75" y="659.35" width="2.96" height="3.65" fill="#c4ff3c"/><rect x="273.11" y="659.35" width="2.96" height="3.65" fill="#fff200"/><rect x="275.47" y="659.35" width="2.96" height="3.65" fill="#86ff7a"/><rect x="277.83" y="659.35" width="2.96" height="3.65" fill="#ff8a00"/><rect x="280.19" y="659.35" width="2.96" height="3.65" fill="#fff200"/><rect x="268.39" y="662.4" width="2.96" height="3.65" fill="#86ff7a"/><rect x="270.75" y="662.4" width="2.96" height="3.65" fill="#fff200"/><rect x="273.11" y="662.4" width="2.96" height="3.65" fill="#ffc400"/><rect x="275.47" y="662.4" width="2.96" height="3.65" fill="#c4ff3c"/><rect x="277.83" y="662.4" width="2.96" height="3.65" fill="#fff200"/><rect x="280.19" y="662.4" width="2.96" height="3.65" fill="#86ff7a"/><rect x="268.39" y="665.45" width="2.96" height="3.65" fill="#86ff7a"/><rect x="270.75" y="665.45" width="2.96" height="3.65" fill="#fff200"/><rect x="273.11" y="665.45" width="2.96" height="3.65" fill="#ffc400"/><rect x="275.47" y="665.45" width="5.32" height="3.65" fill="#86ff7a"/><rect x="270.75" y="668.5" width="2.96" height="3.65" fill="#c4ff3c"/><rect x="273.11" y="668.5" width="2.96" height="3.65" fill="#fff200"/><rect x="270.75" y="671.55" width="5.32" height="3.65" fill="#c4ff3c"/><rect x="311.22" y="623.95" width="4.72" height="1.3" fill="#48b6ff"/><rect x="320.66" y="623.95" width="2.36" height="1.3" fill="#48b6ff"/><rect x="323.02" y="623.75" width="2.36" height="1.7" fill="#20e0ff"/><rect x="311.22" y="626.8" width="2.36" height="1.7" fill="#20e0ff"/><rect x="318.3" y="627" width="2.36" height="1.3" fill="#48b6ff"/><rect x="320.66" y="626.8" width="4.72" height="1.7" fill="#20e0ff"/><rect x="311.22" y="629.85" width="4.72" height="1.7" fill="#20e0ff"/><rect x="323.02" y="629.85" width="4.72" height="1.7" fill="#20e0ff"/><rect x="311.22" y="632.9" width="2.36" height="1.7" fill="#20e0ff"/><rect x="313.28" y="631.9" width="2.96" height="3.65" fill="#40ffc4"/><rect x="315.94" y="632.9" width="2.36" height="1.7" fill="#20e0ff"/><rect x="323.02" y="632.9" width="2.36" height="1.7" fill="#20e0ff"/><rect x="311.22" y="635.95" width="2.36" height="1.7" fill="#20e0ff"/><rect x="313.28" y="634.95" width="2.96" height="3.65" fill="#86ff7a"/><rect x="318.3" y="635.95" width="2.36" height="1.7" fill="#20e0ff"/><rect x="320.36" y="634.95" width="2.96" height="3.65" fill="#86ff7a"/><rect x="310.92" y="638" width="2.96" height="3.65" fill="#18e4ff"/><rect x="313.28" y="638" width="2.96" height="3.65" fill="#86ff7a"/><rect x="315.94" y="639" width="4.72" height="1.7" fill="#20e0ff"/><rect x="323.02" y="639" width="2.36" height="1.7" fill="#20e0ff"/><rect x="310.92" y="641.05" width="2.96" height="3.65" fill="#18e4ff"/><rect x="313.28" y="641.05" width="5.32" height="3.65" fill="#40ffc4"/><rect x="318" y="641.05" width="2.96" height="3.65" fill="#18e4ff"/><rect x="310.92" y="644.1" width="2.96" height="3.65" fill="#40ffc4"/><rect x="313.28" y="644.1" width="2.96" height="3.65" fill="#86ff7a"/><rect x="315.64" y="644.1" width="2.96" height="3.65" fill="#40ffc4"/><rect x="318" y="644.1" width="2.96" height="3.65" fill="#18e4ff"/><rect x="310.92" y="647.15" width="2.96" height="3.65" fill="#c4ff3c"/><rect x="313.28" y="647.15" width="2.96" height="3.65" fill="#86ff7a"/><rect x="315.64" y="647.15" width="5.32" height="3.65" fill="#40ffc4"/><rect x="310.92" y="650.2" width="5.32" height="3.65" fill="#fff200"/><rect x="315.64" y="650.2" width="5.32" height="3.65" fill="#86ff7a"/><rect x="313.28" y="653.25" width="2.96" height="3.65" fill="#c4ff3c"/><rect x="315.64" y="653.25" width="2.96" height="3.65" fill="#ff8a00"/><rect x="318" y="653.25" width="2.96" height="3.65" fill="#fff200"/><rect x="320.36" y="653.25" width="2.96" height="3.65" fill="#c4ff3c"/><rect x="322.72" y="653.25" width="2.96" height="3.65" fill="#86ff7a"/><rect x="308.56" y="656.3" width="5.32" height="3.65" fill="#ffc400"/><rect x="313.28" y="656.3" width="2.96" height="3.65" fill="#fff200"/><rect x="315.64" y="656.3" width="2.96" height="3.65" fill="#ff4a00"/><rect x="318" y="656.3" width="2.96" height="3.65" fill="#ffc400"/><rect x="320.36" y="656.3" width="5.32" height="3.65" fill="#86ff7a"/><rect x="308.56" y="659.35" width="7.68" height="3.65" fill="#ff8a00"/><rect x="315.64" y="659.35" width="2.96" height="3.65" fill="#ff4a00"/><rect x="318" y="659.35" width="2.96" height="3.65" fill="#ff8a00"/><rect x="320.36" y="659.35" width="2.96" height="3.65" fill="#86ff7a"/><rect x="306.2" y="662.4" width="2.96" height="3.65" fill="#c4ff3c"/><rect x="308.56" y="662.4" width="2.96" height="3.65" fill="#ff8a00"/><rect x="310.92" y="662.4" width="5.32" height="3.65" fill="#ff4a00"/><rect x="315.64" y="662.4" width="2.96" height="3.65" fill="#ff8a00"/><rect x="318" y="662.4" width="2.96" height="3.65" fill="#ffc400"/><rect x="306.2" y="665.45" width="2.96" height="3.65" fill="#fff200"/><rect x="308.56" y="665.45" width="2.96" height="3.65" fill="#ffc400"/><rect x="310.92" y="665.45" width="5.32" height="3.65" fill="#ff4a00"/><rect x="315.64" y="665.45" width="2.96" height="3.65" fill="#fff200"/><rect x="310.92" y="668.5" width="5.32" height="3.65" fill="#c4ff3c"/><rect x="310.92" y="671.55" width="5.32" height="3.65" fill="#c4ff3c"/><rect x="354.06" y="623.75" width="2.36" height="1.7" fill="#38b0ff"/><rect x="354.06" y="626.8" width="2.36" height="1.7" fill="#38b0ff"/><rect x="356.12" y="625.8" width="2.96" height="3.65" fill="#40ffc4"/><rect x="358.78" y="626.8" width="2.36" height="1.7" fill="#38b0ff"/><rect x="353.76" y="628.85" width="2.96" height="3.65" fill="#18e4ff"/><rect x="356.12" y="628.85" width="2.96" height="3.65" fill="#86ff7a"/><rect x="358.48" y="628.85" width="2.96" height="3.65" fill="#40ffc4"/><rect x="363.5" y="629.85" width="2.36" height="1.7" fill="#38b0ff"/><rect x="353.76" y="631.9" width="2.96" height="3.65" fill="#18e4ff"/><rect x="356.12" y="631.9" width="2.96" height="3.65" fill="#c4ff3c"/><rect x="358.48" y="631.9" width="2.96" height="3.65" fill="#86ff7a"/><rect x="360.84" y="631.9" width="5.32" height="3.65" fill="#18e4ff"/><rect x="353.76" y="634.95" width="2.96" height="3.65" fill="#18e4ff"/><rect x="356.12" y="634.95" width="2.96" height="3.65" fill="#fff200"/><rect x="358.48" y="634.95" width="2.96" height="3.65" fill="#c4ff3c"/><rect x="360.84" y="634.95" width="2.96" height="3.65" fill="#18e4ff"/><rect x="339.9" y="639" width="2.36" height="1.7" fill="#20e0ff"/><rect x="346.98" y="639" width="2.36" height="1.7" fill="#20e0ff"/><rect x="353.76" y="638" width="2.96" height="3.65" fill="#40ffc4"/><rect x="356.12" y="638" width="2.96" height="3.65" fill="#fff200"/><rect x="358.48" y="638" width="2.96" height="3.65" fill="#86ff7a"/><rect x="361.14" y="639" width="2.36" height="1.7" fill="#20e0ff"/><rect x="342.26" y="642.05" width="2.36" height="1.7" fill="#20e0ff"/><rect x="346.68" y="641.05" width="2.96" height="3.65" fill="#18e4ff"/><rect x="349.04" y="641.05" width="2.96" height="3.65" fill="#86ff7a"/><rect x="351.4" y="641.05" width="2.96" height="3.65" fill="#40ffc4"/><rect x="353.76" y="641.05" width="2.96" height="3.65" fill="#86ff7a"/><rect x="356.12" y="641.05" width="2.96" height="3.65" fill="#ffc400"/><rect x="358.48" y="641.05" width="2.96" height="3.65" fill="#c4ff3c"/><rect x="360.84" y="641.05" width="2.96" height="3.65" fill="#86ff7a"/><rect x="346.68" y="644.1" width="2.96" height="3.65" fill="#18e4ff"/><rect x="349.04" y="644.1" width="7.68" height="3.65" fill="#c4ff3c"/><rect x="356.12" y="644.1" width="2.96" height="3.65" fill="#ffc400"/><rect x="358.48" y="644.1" width="5.32" height="3.65" fill="#86ff7a"/><rect x="344.32" y="647.15" width="2.96" height="3.65" fill="#18e4ff"/><rect x="346.68" y="647.15" width="2.96" height="3.65" fill="#40ffc4"/><rect x="349.04" y="647.15" width="5.32" height="3.65" fill="#fff200"/><rect x="353.76" y="647.15" width="2.96" height="3.65" fill="#c4ff3c"/><rect x="356.12" y="647.15" width="2.96" height="3.65" fill="#ff8a00"/><rect x="358.48" y="647.15" width="2.96" height="3.65" fill="#c4ff3c"/><rect x="360.84" y="647.15" width="2.96" height="3.65" fill="#fff200"/><rect x="339.6" y="650.2" width="5.32" height="3.65" fill="#40ffc4"/><rect x="344.32" y="650.2" width="2.96" height="3.65" fill="#86ff7a"/><rect x="346.68" y="650.2" width="2.96" height="3.65" fill="#fff200"/><rect x="349.04" y="650.2" width="2.96" height="3.65" fill="#c4ff3c"/><rect x="351.4" y="650.2" width="5.32" height="3.65" fill="#fff200"/><rect x="356.12" y="650.2" width="2.96" height="3.65" fill="#ff8a00"/><rect x="358.48" y="650.2" width="2.96" height="3.65" fill="#86ff7a"/><rect x="339.6" y="653.25" width="2.96" height="3.65" fill="#ffc400"/><rect x="341.96" y="653.25" width="2.96" height="3.65" fill="#86ff7a"/><rect x="344.32" y="653.25" width="5.32" height="3.65" fill="#c4ff3c"/><rect x="349.04" y="653.25" width="2.96" height="3.65" fill="#86ff7a"/><rect x="351.4" y="653.25" width="2.96" height="3.65" fill="#fff200"/><rect x="353.76" y="653.25" width="5.32" height="3.65" fill="#ff8a00"/><rect x="358.48" y="653.25" width="5.32" height="3.65" fill="#ffc400"/><rect x="365.56" y="653.25" width="2.96" height="3.65" fill="#86ff7a"/><rect x="339.6" y="656.3" width="2.96" height="3.65" fill="#ff8a00"/><rect x="341.96" y="656.3" width="2.96" height="3.65" fill="#c4ff3c"/><rect x="344.32" y="656.3" width="2.96" height="3.65" fill="#fff200"/><rect x="346.68" y="656.3" width="2.96" height="3.65" fill="#c4ff3c"/><rect x="349.04" y="656.3" width="2.96" height="3.65" fill="#86ff7a"/><rect x="351.4" y="656.3" width="2.96" height="3.65" fill="#ffc400"/><rect x="353.76" y="656.3" width="5.32" height="3.65" fill="#ff8a00"/><rect x="358.48" y="656.3" width="2.96" height="3.65" fill="#ffc400"/><rect x="360.84" y="656.3" width="2.96" height="3.65" fill="#fff200"/><rect x="339.6" y="659.35" width="2.96" height="3.65" fill="#ff8a00"/><rect x="341.96" y="659.35" width="2.96" height="3.65" fill="#c4ff3c"/><rect x="344.32" y="659.35" width="7.68" height="3.65" fill="#ff8a00"/><rect x="351.4" y="659.35" width="5.32" height="3.65" fill="#ffc400"/><rect x="356.12" y="659.35" width="5.32" height="3.65" fill="#ff8a00"/><rect x="360.84" y="659.35" width="2.96" height="3.65" fill="#40ffc4"/><rect x="344.32" y="662.4" width="5.32" height="3.65" fill="#ff4a00"/><rect x="349.04" y="662.4" width="7.68" height="3.65" fill="#ff8a00"/><rect x="356.12" y="662.4" width="2.96" height="3.65" fill="#ffc400"/><rect x="344.32" y="665.45" width="2.96" height="3.65" fill="#ff8a00"/><rect x="346.68" y="665.45" width="2.96" height="3.65" fill="#ffc400"/><rect x="349.04" y="665.45" width="2.96" height="3.65" fill="#ff8a00"/><rect x="351.4" y="665.45" width="2.96" height="3.65" fill="#ffc400"/><rect x="353.76" y="665.45" width="2.96" height="3.65" fill="#fff200"/><rect x="356.12" y="665.45" width="2.96" height="3.65" fill="#c4ff3c"/><rect x="344.32" y="668.5" width="2.96" height="3.65" fill="#fff200"/><rect x="349.04" y="668.5" width="5.32" height="3.65" fill="#c4ff3c"/><rect x="344.32" y="671.55" width="2.96" height="3.65" fill="#c4ff3c"/><rect x="349.04" y="671.55" width="5.32" height="3.65" fill="#c4ff3c"/><rect x="391.54" y="620.9" width="2.36" height="1.3" fill="#48b6ff"/><rect x="396.26" y="620.9" width="2.36" height="1.3" fill="#48b6ff"/><rect x="398.62" y="620.7" width="2.36" height="1.7" fill="#38b0ff"/><rect x="389.18" y="623.75" width="2.36" height="1.7" fill="#38b0ff"/><rect x="396.26" y="623.75" width="4.72" height="1.7" fill="#38b0ff"/><rect x="403.34" y="623.75" width="2.36" height="1.7" fill="#20e0ff"/><rect x="389.18" y="627" width="2.36" height="1.3" fill="#48b6ff"/><rect x="396.26" y="626.8" width="4.72" height="1.7" fill="#38b0ff"/><rect x="386.82" y="629.85" width="2.36" height="1.7" fill="#38b0ff"/><rect x="393.6" y="628.85" width="2.96" height="3.65" fill="#18e4ff"/><rect x="395.96" y="628.85" width="5.32" height="3.65" fill="#40ffc4"/><rect x="400.98" y="629.85" width="2.36" height="1.7" fill="#38b0ff"/><rect x="384.46" y="632.9" width="4.72" height="1.7" fill="#20e0ff"/><rect x="391.24" y="631.9" width="2.96" height="3.65" fill="#18e4ff"/><rect x="393.6" y="631.9" width="2.96" height="3.65" fill="#40ffc4"/><rect x="395.96" y="631.9" width="2.96" height="3.65" fill="#86ff7a"/><rect x="398.32" y="631.9" width="2.96" height="3.65" fill="#c4ff3c"/><rect x="386.82" y="635.95" width="4.72" height="1.7" fill="#20e0ff"/><rect x="391.24" y="634.95" width="2.96" height="3.65" fill="#18e4ff"/><rect x="393.6" y="634.95" width="2.96" height="3.65" fill="#86ff7a"/><rect x="395.96" y="634.95" width="5.32" height="3.65" fill="#c4ff3c"/><rect x="386.82" y="639" width="2.36" height="1.7" fill="#20e0ff"/><rect x="388.88" y="638" width="2.96" height="3.65" fill="#40ffc4"/><rect x="391.24" y="638" width="2.96" height="3.65" fill="#86ff7a"/><rect x="393.6" y="638" width="5.32" height="3.65" fill="#c4ff3c"/><rect x="398.32" y="638" width="2.96" height="3.65" fill="#fff200"/><rect x="382.1" y="642.05" width="2.36" height="1.7" fill="#20e0ff"/><rect x="388.88" y="641.05" width="2.96" height="3.65" fill="#18e4ff"/><rect x="391.24" y="641.05" width="2.96" height="3.65" fill="#86ff7a"/><rect x="393.6" y="641.05" width="2.96" height="3.65" fill="#c4ff3c"/><rect x="395.96" y="641.05" width="2.96" height="3.65" fill="#86ff7a"/><rect x="398.32" y="641.05" width="2.96" height="3.65" fill="#ffc400"/><rect x="381.8" y="644.1" width="2.96" height="3.65" fill="#40ffc4"/><rect x="384.16" y="644.1" width="5.32" height="3.65" fill="#18e4ff"/><rect x="388.88" y="644.1" width="2.96" height="3.65" fill="#86ff7a"/><rect x="391.24" y="644.1" width="7.68" height="3.65" fill="#c4ff3c"/><rect x="398.32" y="644.1" width="2.96" height="3.65" fill="#fff200"/><rect x="381.8" y="647.15" width="2.96" height="3.65" fill="#86ff7a"/><rect x="388.88" y="647.15" width="2.96" height="3.65" fill="#c4ff3c"/><rect x="391.24" y="647.15" width="2.96" height="3.65" fill="#ffc400"/><rect x="393.6" y="647.15" width="2.96" height="3.65" fill="#c4ff3c"/><rect x="395.96" y="647.15" width="2.96" height="3.65" fill="#86ff7a"/><rect x="381.8" y="650.2" width="2.96" height="3.65" fill="#86ff7a"/><rect x="384.16" y="650.2" width="2.96" height="3.65" fill="#c4ff3c"/><rect x="386.52" y="650.2" width="5.32" height="3.65" fill="#86ff7a"/><rect x="391.24" y="650.2" width="2.96" height="3.65" fill="#fff200"/><rect x="393.6" y="650.2" width="2.96" height="3.65" fill="#86ff7a"/><rect x="395.96" y="650.2" width="2.96" height="3.65" fill="#ffc400"/><rect x="384.16" y="653.25" width="2.96" height="3.65" fill="#86ff7a"/><rect x="386.52" y="653.25" width="5.32" height="3.65" fill="#40ffc4"/><rect x="391.24" y="653.25" width="5.32" height="3.65" fill="#c4ff3c"/><rect x="395.96" y="653.25" width="5.32" height="3.65" fill="#ff8a00"/><rect x="400.68" y="653.25" width="2.96" height="3.65" fill="#86ff7a"/><rect x="381.8" y="656.3" width="2.96" height="3.65" fill="#40ffc4"/><rect x="384.16" y="656.3" width="2.96" height="3.65" fill="#c4ff3c"/><rect x="386.52" y="656.3" width="2.96" height="3.65" fill="#fff200"/><rect x="388.88" y="656.3" width="2.96" height="3.65" fill="#86ff7a"/><rect x="391.24" y="656.3" width="5.32" height="3.65" fill="#fff200"/><rect x="395.96" y="656.3" width="2.96" height="3.65" fill="#ff8a00"/><rect x="398.32" y="656.3" width="2.96" height="3.65" fill="#ffc400"/><rect x="381.8" y="659.35" width="2.96" height="3.65" fill="#86ff7a"/><rect x="384.16" y="659.35" width="2.96" height="3.65" fill="#c4ff3c"/><rect x="386.52" y="659.35" width="2.96" height="3.65" fill="#ffc400"/><rect x="388.88" y="659.35" width="2.96" height="3.65" fill="#86ff7a"/><rect x="391.24" y="659.35" width="7.68" height="3.65" fill="#c4ff3c"/><rect x="381.8" y="662.4" width="2.96" height="3.65" fill="#86ff7a"/><rect x="384.16" y="662.4" width="2.96" height="3.65" fill="#c4ff3c"/><rect x="386.52" y="662.4" width="2.96" height="3.65" fill="#ffc400"/><rect x="388.88" y="662.4" width="5.32" height="3.65" fill="#c4ff3c"/><rect x="384.16" y="665.45" width="2.96" height="3.65" fill="#c4ff3c"/><rect x="386.52" y="665.45" width="2.96" height="3.65" fill="#ffc400"/><rect x="386.52" y="668.5" width="2.96" height="3.65" fill="#fff200"/><rect x="386.52" y="671.55" width="2.96" height="3.65" fill="#fff200"/><rect x="436.56" y="617.65" width="2.36" height="1.7" fill="#38b0ff"/><rect x="429.48" y="620.7" width="2.36" height="1.7" fill="#20e0ff"/><rect x="431.84" y="620.9" width="2.36" height="1.3" fill="#48b6ff"/><rect x="434.2" y="620.7" width="2.36" height="1.7" fill="#38b0ff"/><rect x="438.62" y="619.7" width="2.96" height="3.65" fill="#18e4ff"/><rect x="429.48" y="623.75" width="7.08" height="1.7" fill="#38b0ff"/><rect x="436.26" y="622.75" width="2.96" height="3.65" fill="#18e4ff"/><rect x="438.62" y="622.75" width="2.96" height="3.65" fill="#40ffc4"/><rect x="441.28" y="623.75" width="2.36" height="1.7" fill="#20e0ff"/><rect x="427.12" y="626.8" width="2.36" height="1.7" fill="#20e0ff"/><rect x="429.18" y="625.8" width="7.68" height="3.65" fill="#18e4ff"/><rect x="436.26" y="625.8" width="2.96" height="3.65" fill="#40ffc4"/><rect x="438.62" y="625.8" width="2.96" height="3.65" fill="#86ff7a"/><rect x="441.28" y="626.8" width="2.36" height="1.7" fill="#20e0ff"/><rect x="429.18" y="628.85" width="5.32" height="3.65" fill="#18e4ff"/><rect x="433.9" y="628.85" width="2.96" height="3.65" fill="#40ffc4"/><rect x="436.26" y="628.85" width="5.32" height="3.65" fill="#86ff7a"/><rect x="440.98" y="628.85" width="2.96" height="3.65" fill="#18e4ff"/><rect x="424.76" y="632.9" width="2.36" height="1.7" fill="#20e0ff"/><rect x="426.82" y="631.9" width="2.96" height="3.65" fill="#18e4ff"/><rect x="429.18" y="631.9" width="2.96" height="3.65" fill="#40ffc4"/><rect x="431.54" y="631.9" width="5.32" height="3.65" fill="#86ff7a"/><rect x="436.26" y="631.9" width="2.96" height="3.65" fill="#c4ff3c"/><rect x="438.62" y="631.9" width="2.96" height="3.65" fill="#86ff7a"/><rect x="440.98" y="631.9" width="2.96" height="3.65" fill="#40ffc4"/><rect x="426.82" y="634.95" width="2.96" height="3.65" fill="#18e4ff"/><rect x="429.18" y="634.95" width="2.96" height="3.65" fill="#40ffc4"/><rect x="431.54" y="634.95" width="2.96" height="3.65" fill="#86ff7a"/><rect x="433.9" y="634.95" width="5.32" height="3.65" fill="#c4ff3c"/><rect x="438.62" y="634.95" width="2.96" height="3.65" fill="#86ff7a"/><rect x="440.98" y="634.95" width="2.96" height="3.65" fill="#40ffc4"/><rect x="424.46" y="638" width="2.96" height="3.65" fill="#40ffc4"/><rect x="426.82" y="638" width="5.32" height="3.65" fill="#86ff7a"/><rect x="431.54" y="638" width="5.32" height="3.65" fill="#c4ff3c"/><rect x="436.26" y="638" width="5.32" height="3.65" fill="#86ff7a"/><rect x="424.46" y="641.05" width="5.32" height="3.65" fill="#86ff7a"/><rect x="429.18" y="641.05" width="5.32" height="3.65" fill="#c4ff3c"/><rect x="433.9" y="641.05" width="5.32" height="3.65" fill="#86ff7a"/><rect x="438.62" y="641.05" width="2.96" height="3.65" fill="#40ffc4"/><rect x="422.1" y="644.1" width="2.96" height="3.65" fill="#18e4ff"/><rect x="424.46" y="644.1" width="2.96" height="3.65" fill="#86ff7a"/><rect x="426.82" y="644.1" width="10.04" height="3.65" fill="#c4ff3c"/><rect x="436.26" y="644.1" width="2.96" height="3.65" fill="#86ff7a"/><rect x="438.92" y="645.1" width="2.36" height="1.7" fill="#20e0ff"/><rect x="424.46" y="647.15" width="5.32" height="3.65" fill="#fff200"/><rect x="429.18" y="647.15" width="2.96" height="3.65" fill="#c4ff3c"/><rect x="431.54" y="647.15" width="5.32" height="3.65" fill="#86ff7a"/><rect x="424.46" y="650.2" width="2.96" height="3.65" fill="#ff8a00"/><rect x="426.82" y="650.2" width="5.32" height="3.65" fill="#c4ff3c"/><rect x="431.54" y="650.2" width="5.32" height="3.65" fill="#86ff7a"/><rect x="436.26" y="650.2" width="2.96" height="3.65" fill="#fff200"/><rect x="438.62" y="650.2" width="2.96" height="3.65" fill="#c4ff3c"/><rect x="424.46" y="653.25" width="2.96" height="3.65" fill="#40ffc4"/><rect x="426.82" y="653.25" width="5.32" height="3.65" fill="#c4ff3c"/><rect x="431.54" y="653.25" width="2.96" height="3.65" fill="#86ff7a"/><rect x="436.26" y="653.25" width="5.32" height="3.65" fill="#fff200"/><rect x="424.46" y="656.3" width="2.96" height="3.65" fill="#40ffc4"/><rect x="426.82" y="656.3" width="2.96" height="3.65" fill="#c4ff3c"/><rect x="429.18" y="656.3" width="2.96" height="3.65" fill="#fff200"/><rect x="431.54" y="656.3" width="2.96" height="3.65" fill="#86ff7a"/><rect x="436.26" y="656.3" width="2.96" height="3.65" fill="#c4ff3c"/><rect x="424.46" y="659.35" width="2.96" height="3.65" fill="#86ff7a"/><rect x="426.82" y="659.35" width="5.32" height="3.65" fill="#c4ff3c"/><rect x="431.54" y="659.35" width="2.96" height="3.65" fill="#86ff7a"/><rect x="424.46" y="662.4" width="5.32" height="3.65" fill="#c4ff3c"/><rect x="429.18" y="662.4" width="2.96" height="3.65" fill="#86ff7a"/><rect x="422.1" y="665.45" width="7.68" height="3.65" fill="#c4ff3c"/><rect x="463.04" y="620.7" width="2.36" height="1.7" fill="#20e0ff"/><rect x="465.4" y="620.7" width="2.36" height="1.7" fill="#38b0ff"/><rect x="463.04" y="623.75" width="2.36" height="1.7" fill="#20e0ff"/><rect x="465.4" y="623.75" width="2.36" height="1.7" fill="#38b0ff"/><rect x="463.04" y="626.8" width="2.36" height="1.7" fill="#38b0ff"/><rect x="465.1" y="625.8" width="5.32" height="3.65" fill="#18e4ff"/><rect x="470.12" y="626.8" width="2.36" height="1.7" fill="#38b0ff"/><rect x="460.68" y="629.85" width="4.72" height="1.7" fill="#20e0ff"/><rect x="465.1" y="628.85" width="2.96" height="3.65" fill="#40ffc4"/><rect x="467.46" y="628.85" width="2.96" height="3.65" fill="#86ff7a"/><rect x="469.82" y="628.85" width="2.96" height="3.65" fill="#18e4ff"/><rect x="465.1" y="631.9" width="5.32" height="3.65" fill="#86ff7a"/><rect x="469.82" y="631.9" width="2.96" height="3.65" fill="#40ffc4"/><rect x="472.18" y="631.9" width="2.96" height="3.65" fill="#18e4ff"/><rect x="462.74" y="634.95" width="2.96" height="3.65" fill="#18e4ff"/><rect x="465.1" y="634.95" width="2.96" height="3.65" fill="#86ff7a"/><rect x="467.46" y="634.95" width="2.96" height="3.65" fill="#c4ff3c"/><rect x="469.82" y="634.95" width="2.96" height="3.65" fill="#86ff7a"/><rect x="472.18" y="634.95" width="2.96" height="3.65" fill="#40ffc4"/><rect x="453.6" y="639" width="7.08" height="1.7" fill="#20e0ff"/><rect x="462.74" y="638" width="2.96" height="3.65" fill="#40ffc4"/><rect x="465.1" y="638" width="5.32" height="3.65" fill="#c4ff3c"/><rect x="469.82" y="638" width="2.96" height="3.65" fill="#86ff7a"/><rect x="472.18" y="638" width="2.96" height="3.65" fill="#40ffc4"/><rect x="455.96" y="642.05" width="7.08" height="1.7" fill="#20e0ff"/><rect x="462.74" y="641.05" width="2.96" height="3.65" fill="#86ff7a"/><rect x="465.1" y="641.05" width="2.96" height="3.65" fill="#c4ff3c"/><rect x="467.46" y="641.05" width="2.96" height="3.65" fill="#fff200"/><rect x="469.82" y="641.05" width="2.96" height="3.65" fill="#c4ff3c"/><rect x="472.18" y="641.05" width="2.96" height="3.65" fill="#86ff7a"/><rect x="474.54" y="641.05" width="2.96" height="3.65" fill="#40ffc4"/><rect x="458.32" y="645.1" width="2.36" height="1.7" fill="#20e0ff"/><rect x="460.38" y="644.1" width="2.96" height="3.65" fill="#18e4ff"/><rect x="462.74" y="644.1" width="2.96" height="3.65" fill="#86ff7a"/><rect x="465.1" y="644.1" width="2.96" height="3.65" fill="#fff200"/><rect x="467.46" y="644.1" width="2.96" height="3.65" fill="#ffc400"/><rect x="469.82" y="644.1" width="2.96" height="3.65" fill="#fff200"/><rect x="472.18" y="644.1" width="2.96" height="3.65" fill="#86ff7a"/><rect x="458.32" y="648.15" width="2.36" height="1.7" fill="#20e0ff"/><rect x="460.38" y="647.15" width="2.96" height="3.65" fill="#40ffc4"/><rect x="462.74" y="647.15" width="2.96" height="3.65" fill="#c4ff3c"/><rect x="465.1" y="647.15" width="5.32" height="3.65" fill="#ff8a00"/><rect x="469.82" y="647.15" width="2.96" height="3.65" fill="#ffc400"/><rect x="472.18" y="647.15" width="2.96" height="3.65" fill="#86ff7a"/><rect x="474.54" y="647.15" width="2.96" height="3.65" fill="#40ffc4"/><rect x="453.3" y="650.2" width="2.96" height="3.65" fill="#18e4ff"/><rect x="458.02" y="650.2" width="2.96" height="3.65" fill="#40ffc4"/><rect x="460.38" y="650.2" width="2.96" height="3.65" fill="#86ff7a"/><rect x="462.74" y="650.2" width="2.96" height="3.65" fill="#c4ff3c"/><rect x="465.1" y="650.2" width="5.32" height="3.65" fill="#ff8a00"/><rect x="469.82" y="650.2" width="2.96" height="3.65" fill="#ffc400"/><rect x="462.74" y="653.25" width="5.32" height="3.65" fill="#fff200"/><rect x="467.46" y="653.25" width="2.96" height="3.65" fill="#ffc400"/><rect x="469.82" y="653.25" width="2.96" height="3.65" fill="#fff200"/><rect x="472.18" y="653.25" width="5.32" height="3.65" fill="#ff8a00"/><rect x="476.9" y="653.25" width="2.96" height="3.65" fill="#86ff7a"/><rect x="458.02" y="656.3" width="2.96" height="3.65" fill="#40ffc4"/><rect x="462.74" y="656.3" width="2.96" height="3.65" fill="#fff200"/><rect x="465.1" y="656.3" width="2.96" height="3.65" fill="#ffc400"/><rect x="467.46" y="656.3" width="2.96" height="3.65" fill="#fff200"/><rect x="469.82" y="656.3" width="2.96" height="3.65" fill="#ffc400"/><rect x="472.18" y="656.3" width="2.96" height="3.65" fill="#ff8a00"/><rect x="474.54" y="656.3" width="2.96" height="3.65" fill="#ffc400"/><rect x="458.02" y="659.35" width="2.96" height="3.65" fill="#86ff7a"/><rect x="462.74" y="659.35" width="2.96" height="3.65" fill="#fff200"/><rect x="465.1" y="659.35" width="2.96" height="3.65" fill="#ffc400"/><rect x="467.46" y="659.35" width="5.32" height="3.65" fill="#fff200"/><rect x="458.02" y="662.4" width="2.96" height="3.65" fill="#c4ff3c"/><rect x="462.74" y="662.4" width="5.32" height="3.65" fill="#ffc400"/><rect x="467.46" y="662.4" width="5.32" height="3.65" fill="#fff200"/><rect x="458.02" y="665.45" width="2.96" height="3.65" fill="#c4ff3c"/><rect x="462.74" y="665.45" width="5.32" height="3.65" fill="#ff8a00"/><rect x="467.46" y="665.45" width="5.32" height="3.65" fill="#86ff7a"/><rect x="458.02" y="668.5" width="2.96" height="3.65" fill="#c4ff3c"/><rect x="462.74" y="668.5" width="2.96" height="3.65" fill="#ffc400"/><rect x="465.1" y="668.5" width="2.96" height="3.65" fill="#fff200"/><rect x="458.02" y="671.55" width="2.96" height="3.65" fill="#c4ff3c"/><rect x="462.74" y="671.55" width="2.96" height="3.65" fill="#ffc400"/><rect x="465.1" y="671.55" width="2.96" height="3.65" fill="#fff200"/><rect x="509.52" y="626.8" width="2.36" height="1.7" fill="#38b0ff"/><rect x="509.52" y="629.85" width="2.36" height="1.7" fill="#38b0ff"/><rect x="511.58" y="628.85" width="2.96" height="3.65" fill="#18e4ff"/><rect x="507.16" y="632.9" width="2.36" height="1.7" fill="#20e0ff"/><rect x="509.22" y="631.9" width="5.32" height="3.65" fill="#18e4ff"/><rect x="514.24" y="632.9" width="2.36" height="1.7" fill="#20e0ff"/><rect x="506.86" y="634.95" width="2.96" height="3.65" fill="#18e4ff"/><rect x="509.22" y="634.95" width="2.96" height="3.65" fill="#40ffc4"/><rect x="511.58" y="634.95" width="2.96" height="3.65" fill="#18e4ff"/><rect x="514.24" y="635.95" width="2.36" height="1.7" fill="#20e0ff"/><rect x="504.5" y="638" width="2.96" height="3.65" fill="#40ffc4"/><rect x="506.86" y="638" width="5.32" height="3.65" fill="#86ff7a"/><rect x="511.88" y="639" width="2.36" height="1.7" fill="#20e0ff"/><rect x="502.14" y="641.05" width="5.32" height="3.65" fill="#86ff7a"/><rect x="506.86" y="641.05" width="2.96" height="3.65" fill="#c4ff3c"/><rect x="509.22" y="641.05" width="2.96" height="3.65" fill="#86ff7a"/><rect x="492.7" y="644.1" width="2.96" height="3.65" fill="#40ffc4"/><rect x="502.14" y="644.1" width="2.96" height="3.65" fill="#40ffc4"/><rect x="504.5" y="644.1" width="2.96" height="3.65" fill="#86ff7a"/><rect x="506.86" y="644.1" width="2.96" height="3.65" fill="#c4ff3c"/><rect x="509.22" y="644.1" width="2.96" height="3.65" fill="#86ff7a"/><rect x="511.58" y="644.1" width="2.96" height="3.65" fill="#40ffc4"/><rect x="492.7" y="647.15" width="5.32" height="3.65" fill="#40ffc4"/><rect x="499.78" y="647.15" width="2.96" height="3.65" fill="#40ffc4"/><rect x="502.14" y="647.15" width="2.96" height="3.65" fill="#86ff7a"/><rect x="504.5" y="647.15" width="2.96" height="3.65" fill="#c4ff3c"/><rect x="506.86" y="647.15" width="2.96" height="3.65" fill="#fff200"/><rect x="509.22" y="647.15" width="2.96" height="3.65" fill="#86ff7a"/><rect x="492.7" y="650.2" width="10.04" height="3.65" fill="#40ffc4"/><rect x="502.14" y="650.2" width="2.96" height="3.65" fill="#86ff7a"/><rect x="504.5" y="650.2" width="5.32" height="3.65" fill="#fff200"/><rect x="509.22" y="650.2" width="2.96" height="3.65" fill="#c4ff3c"/><rect x="495.06" y="653.25" width="7.68" height="3.65" fill="#40ffc4"/><rect x="502.14" y="653.25" width="2.96" height="3.65" fill="#c4ff3c"/><rect x="504.5" y="653.25" width="5.32" height="3.65" fill="#ffc400"/><rect x="509.22" y="653.25" width="2.96" height="3.65" fill="#ff8a00"/><rect x="511.58" y="653.25" width="2.96" height="3.65" fill="#ffc400"/><rect x="516.3" y="653.25" width="2.96" height="3.65" fill="#40ffc4"/><rect x="495.06" y="656.3" width="2.96" height="3.65" fill="#86ff7a"/><rect x="497.42" y="656.3" width="2.96" height="3.65" fill="#40ffc4"/><rect x="502.14" y="656.3" width="5.32" height="3.65" fill="#ffc400"/><rect x="506.86" y="656.3" width="2.96" height="3.65" fill="#ff8a00"/><rect x="509.22" y="656.3" width="2.96" height="3.65" fill="#ffc400"/><rect x="511.58" y="656.3" width="2.96" height="3.65" fill="#fff200"/><rect x="495.06" y="659.35" width="2.96" height="3.65" fill="#86ff7a"/><rect x="497.42" y="659.35" width="2.96" height="3.65" fill="#c4ff3c"/><rect x="499.78" y="659.35" width="2.96" height="3.65" fill="#fff200"/><rect x="502.14" y="659.35" width="7.68" height="3.65" fill="#ff8a00"/><rect x="509.22" y="659.35" width="2.96" height="3.65" fill="#40ffc4"/><rect x="495.06" y="662.4" width="7.68" height="3.65" fill="#fff200"/><rect x="502.14" y="662.4" width="2.96" height="3.65" fill="#ff4a00"/><rect x="504.5" y="662.4" width="2.96" height="3.65" fill="#c4ff3c"/><rect x="506.86" y="662.4" width="2.96" height="3.65" fill="#86ff7a"/><rect x="495.06" y="665.45" width="5.32" height="3.65" fill="#fff200"/><rect x="499.78" y="665.45" width="2.96" height="3.65" fill="#ffc400"/><rect x="502.14" y="665.45" width="2.96" height="3.65" fill="#ff4a00"/><rect x="506.86" y="665.45" width="2.96" height="3.65" fill="#c4ff3c"/><rect x="495.06" y="668.5" width="2.96" height="3.65" fill="#c4ff3c"/><rect x="499.78" y="668.5" width="2.96" height="3.65" fill="#ffc400"/><rect x="502.14" y="668.5" width="2.96" height="3.65" fill="#fff200"/><rect x="495.06" y="671.55" width="2.96" height="3.65" fill="#86ff7a"/><rect x="499.78" y="671.55" width="5.32" height="3.65" fill="#fff200"/><rect x="499.78" y="674.6" width="2.96" height="3.65" fill="#c4ff3c"/><rect x="499.78" y="677.65" width="2.96" height="3.65" fill="#c4ff3c"/><rect x="499.78" y="680.7" width="2.96" height="2.6" fill="#c4ff3c"/><rect x="549.84" y="620.7" width="2.36" height="1.7" fill="#38b0ff"/><rect x="552.2" y="620.9" width="2.36" height="1.3" fill="#48b6ff"/><rect x="549.84" y="623.75" width="4.72" height="1.7" fill="#38b0ff"/><rect x="549.84" y="626.8" width="2.36" height="1.7" fill="#38b0ff"/><rect x="551.9" y="625.8" width="2.96" height="3.65" fill="#18e4ff"/><rect x="554.56" y="626.8" width="2.36" height="1.7" fill="#20e0ff"/><rect x="547.48" y="629.85" width="2.36" height="1.7" fill="#20e0ff"/><rect x="549.54" y="628.85" width="2.96" height="3.65" fill="#18e4ff"/><rect x="552.2" y="629.85" width="2.36" height="1.7" fill="#20e0ff"/><rect x="549.84" y="632.9" width="4.72" height="1.7" fill="#20e0ff"/><rect x="547.18" y="634.95" width="2.96" height="3.65" fill="#18e4ff"/><rect x="549.54" y="634.95" width="2.96" height="3.65" fill="#40ffc4"/><rect x="552.2" y="635.95" width="2.36" height="1.7" fill="#20e0ff"/><rect x="545.12" y="639" width="2.36" height="1.7" fill="#20e0ff"/><rect x="547.18" y="638" width="2.96" height="3.65" fill="#40ffc4"/><rect x="549.54" y="638" width="2.96" height="3.65" fill="#86ff7a"/><rect x="552.2" y="639" width="2.36" height="1.7" fill="#20e0ff"/><rect x="547.18" y="641.05" width="5.32" height="3.65" fill="#86ff7a"/><rect x="533.32" y="645.1" width="9.44" height="1.7" fill="#20e0ff"/><rect x="545.12" y="645.1" width="2.36" height="1.7" fill="#20e0ff"/><rect x="547.18" y="644.1" width="5.32" height="3.65" fill="#86ff7a"/><rect x="530.66" y="647.15" width="10.04" height="3.65" fill="#40ffc4"/><rect x="540.1" y="647.15" width="2.96" height="3.65" fill="#86ff7a"/><rect x="542.46" y="647.15" width="2.96" height="3.65" fill="#40ffc4"/><rect x="544.82" y="647.15" width="5.32" height="3.65" fill="#86ff7a"/><rect x="530.66" y="650.2" width="7.68" height="3.65" fill="#40ffc4"/><rect x="537.74" y="650.2" width="10.04" height="3.65" fill="#86ff7a"/><rect x="547.18" y="650.2" width="2.96" height="3.65" fill="#ffc400"/><rect x="549.54" y="650.2" width="2.96" height="3.65" fill="#fff200"/><rect x="535.38" y="653.25" width="2.96" height="3.65" fill="#40ffc4"/><rect x="537.74" y="653.25" width="2.96" height="3.65" fill="#86ff7a"/><rect x="540.1" y="653.25" width="5.32" height="3.65" fill="#c4ff3c"/><rect x="544.82" y="653.25" width="2.96" height="3.65" fill="#fff200"/><rect x="547.18" y="653.25" width="5.32" height="3.65" fill="#ffc400"/><rect x="551.9" y="653.25" width="2.96" height="3.65" fill="#86ff7a"/><rect x="528.3" y="656.3" width="2.96" height="3.65" fill="#40ffc4"/><rect x="533.02" y="656.3" width="5.32" height="3.65" fill="#86ff7a"/><rect x="537.74" y="656.3" width="5.32" height="3.65" fill="#ffc400"/><rect x="542.46" y="656.3" width="5.32" height="3.65" fill="#fff200"/><rect x="547.18" y="656.3" width="5.32" height="3.65" fill="#c4ff3c"/><rect x="533.02" y="659.35" width="5.32" height="3.65" fill="#c4ff3c"/><rect x="537.74" y="659.35" width="2.96" height="3.65" fill="#ff8a00"/><rect x="540.1" y="659.35" width="2.96" height="3.65" fill="#ffc400"/><rect x="542.46" y="659.35" width="5.32" height="3.65" fill="#fff200"/><rect x="533.02" y="662.4" width="5.32" height="3.65" fill="#fff200"/><rect x="537.74" y="662.4" width="2.96" height="3.65" fill="#ff4a00"/><rect x="540.1" y="662.4" width="2.96" height="3.65" fill="#ff8a00"/><rect x="542.46" y="662.4" width="5.32" height="3.65" fill="#fff200"/><rect x="533.02" y="665.45" width="5.32" height="3.65" fill="#fff200"/><rect x="537.74" y="665.45" width="2.96" height="3.65" fill="#ff4a00"/><rect x="540.1" y="665.45" width="2.96" height="3.65" fill="#ff8a00"/><rect x="533.02" y="668.5" width="2.96" height="3.65" fill="#fff200"/><rect x="535.38" y="668.5" width="7.68" height="3.65" fill="#c4ff3c"/><rect x="533.02" y="671.55" width="2.96" height="3.65" fill="#c4ff3c"/><rect x="535.38" y="671.55" width="2.96" height="3.65" fill="#86ff7a"/><rect x="537.74" y="671.55" width="2.96" height="3.65" fill="#c4ff3c"/><rect x="540.1" y="671.55" width="2.96" height="3.65" fill="#86ff7a"/><rect x="533.02" y="674.6" width="2.96" height="3.65" fill="#c4ff3c"/><rect x="533.02" y="677.65" width="2.96" height="3.65" fill="#c4ff3c"/><rect x="533.02" y="680.7" width="2.96" height="2.6" fill="#c4ff3c"/><rect x="571.19" y="614.8" width="2.36" height="1.3" fill="#48b6ff"/><rect x="573.55" y="614.6" width="2.36" height="1.7" fill="#38b0ff"/><rect x="575.91" y="617.65" width="2.36" height="1.7" fill="#38b0ff"/><rect x="571.19" y="620.7" width="2.36" height="1.7" fill="#38b0ff"/><rect x="573.25" y="619.7" width="2.96" height="3.65" fill="#1c7cff"/><rect x="575.61" y="619.7" width="2.96" height="3.65" fill="#40ffc4"/><rect x="566.47" y="623.75" width="2.36" height="1.7" fill="#38b0ff"/><rect x="573.55" y="623.75" width="2.36" height="1.7" fill="#38b0ff"/><rect x="575.61" y="622.75" width="2.96" height="3.65" fill="#40ffc4"/><rect x="577.97" y="622.75" width="2.96" height="3.65" fill="#18e4ff"/><rect x="568.83" y="626.8" width="4.72" height="1.7" fill="#38b0ff"/><rect x="573.25" y="625.8" width="2.96" height="3.65" fill="#18e4ff"/><rect x="575.61" y="625.8" width="5.32" height="3.65" fill="#40ffc4"/><rect x="580.33" y="625.8" width="2.96" height="3.65" fill="#18e4ff"/><rect x="568.83" y="629.85" width="2.36" height="1.7" fill="#38b0ff"/><rect x="570.89" y="628.85" width="5.32" height="3.65" fill="#18e4ff"/><rect x="575.61" y="628.85" width="2.96" height="3.65" fill="#40ffc4"/><rect x="577.97" y="628.85" width="2.96" height="3.65" fill="#86ff7a"/><rect x="580.33" y="628.85" width="2.96" height="3.65" fill="#40ffc4"/><rect x="582.99" y="629.85" width="2.36" height="1.7" fill="#20e0ff"/><rect x="568.53" y="631.9" width="2.96" height="3.65" fill="#18e4ff"/><rect x="570.89" y="631.9" width="5.32" height="3.65" fill="#40ffc4"/><rect x="575.61" y="631.9" width="7.68" height="3.65" fill="#86ff7a"/><rect x="582.99" y="632.9" width="2.36" height="1.7" fill="#20e0ff"/><rect x="568.83" y="635.95" width="2.36" height="1.7" fill="#20e0ff"/><rect x="570.89" y="634.95" width="2.96" height="3.65" fill="#40ffc4"/><rect x="575.61" y="634.95" width="5.32" height="3.65" fill="#86ff7a"/><rect x="580.33" y="634.95" width="2.96" height="3.65" fill="#c4ff3c"/><rect x="582.69" y="634.95" width="2.96" height="3.65" fill="#40ffc4"/><rect x="568.53" y="638" width="2.96" height="3.65" fill="#40ffc4"/><rect x="570.89" y="638" width="10.04" height="3.65" fill="#86ff7a"/><rect x="580.33" y="638" width="2.96" height="3.65" fill="#c4ff3c"/><rect x="582.69" y="638" width="2.96" height="3.65" fill="#86ff7a"/><rect x="585.05" y="638" width="2.96" height="3.65" fill="#40ffc4"/><rect x="568.53" y="641.05" width="2.96" height="3.65" fill="#40ffc4"/><rect x="570.89" y="641.05" width="5.32" height="3.65" fill="#86ff7a"/><rect x="575.61" y="641.05" width="10.04" height="3.65" fill="#c4ff3c"/><rect x="585.05" y="641.05" width="2.96" height="3.65" fill="#40ffc4"/><rect x="568.53" y="644.1" width="5.32" height="3.65" fill="#86ff7a"/><rect x="573.25" y="644.1" width="2.96" height="3.65" fill="#c4ff3c"/><rect x="575.61" y="644.1" width="2.96" height="3.65" fill="#ffc400"/><rect x="577.97" y="644.1" width="2.96" height="3.65" fill="#fff200"/><rect x="580.33" y="644.1" width="2.96" height="3.65" fill="#c4ff3c"/><rect x="582.69" y="644.1" width="2.96" height="3.65" fill="#86ff7a"/><rect x="585.05" y="644.1" width="2.96" height="3.65" fill="#40ffc4"/><rect x="561.75" y="648.15" width="2.36" height="1.7" fill="#20e0ff"/><rect x="566.47" y="648.15" width="2.36" height="1.7" fill="#20e0ff"/><rect x="570.89" y="647.15" width="2.96" height="3.65" fill="#86ff7a"/><rect x="573.25" y="647.15" width="2.96" height="3.65" fill="#fff200"/><rect x="575.61" y="647.15" width="5.32" height="3.65" fill="#ffc400"/><rect x="580.33" y="647.15" width="2.96" height="3.65" fill="#fff200"/><rect x="582.69" y="647.15" width="2.96" height="3.65" fill="#c4ff3c"/><rect x="570.89" y="650.2" width="2.96" height="3.65" fill="#40ffc4"/><rect x="573.25" y="650.2" width="10.04" height="3.65" fill="#ffc400"/><rect x="582.69" y="650.2" width="2.96" height="3.65" fill="#fff200"/><rect x="585.05" y="650.2" width="2.96" height="3.65" fill="#86ff7a"/><rect x="573.25" y="653.25" width="2.96" height="3.65" fill="#ff8a00"/><rect x="575.61" y="653.25" width="2.96" height="3.65" fill="#ffc400"/><rect x="577.97" y="653.25" width="2.96" height="3.65" fill="#fff200"/><rect x="580.33" y="653.25" width="5.32" height="3.65" fill="#ff8a00"/><rect x="585.05" y="653.25" width="5.32" height="3.65" fill="#ffc400"/><rect x="589.77" y="653.25" width="2.96" height="3.65" fill="#ff8a00"/><rect x="592.13" y="653.25" width="2.96" height="3.65" fill="#ffc400"/><rect x="573.25" y="656.3" width="2.96" height="3.65" fill="#ff8a00"/><rect x="575.61" y="656.3" width="2.96" height="3.65" fill="#ffc400"/><rect x="577.97" y="656.3" width="2.96" height="3.65" fill="#fff200"/><rect x="580.33" y="656.3" width="2.96" height="3.65" fill="#ff8a00"/><rect x="582.69" y="656.3" width="2.96" height="3.65" fill="#ffc400"/><rect x="585.05" y="656.3" width="2.96" height="3.65" fill="#fff200"/><rect x="587.41" y="656.3" width="5.32" height="3.65" fill="#86ff7a"/><rect x="570.89" y="659.35" width="2.96" height="3.65" fill="#ffc400"/><rect x="573.25" y="659.35" width="2.96" height="3.65" fill="#ff4a00"/><rect x="575.61" y="659.35" width="2.96" height="3.65" fill="#ff8a00"/><rect x="577.97" y="659.35" width="5.32" height="3.65" fill="#ffc400"/><rect x="582.69" y="659.35" width="2.96" height="3.65" fill="#fff200"/><rect x="585.05" y="659.35" width="2.96" height="3.65" fill="#40ffc4"/><rect x="570.89" y="662.4" width="2.96" height="3.65" fill="#ffc400"/><rect x="573.25" y="662.4" width="2.96" height="3.65" fill="#ff4a00"/><rect x="575.61" y="662.4" width="2.96" height="3.65" fill="#ff8a00"/><rect x="577.97" y="662.4" width="2.96" height="3.65" fill="#ffc400"/><rect x="580.33" y="662.4" width="2.96" height="3.65" fill="#fff200"/><rect x="582.69" y="662.4" width="2.96" height="3.65" fill="#c4ff3c"/><rect x="570.89" y="665.45" width="2.96" height="3.65" fill="#ffc400"/><rect x="573.25" y="665.45" width="2.96" height="3.65" fill="#fff200"/><rect x="575.61" y="665.45" width="2.96" height="3.65" fill="#ffc400"/><rect x="577.97" y="665.45" width="2.96" height="3.65" fill="#fff200"/><rect x="577.97" y="668.5" width="2.96" height="3.65" fill="#c4ff3c"/><rect x="577.97" y="671.55" width="2.96" height="3.65" fill="#86ff7a"/><rect x="611.34" y="623.95" width="2.36" height="1.3" fill="#48b6ff"/><rect x="613.7" y="623.75" width="4.72" height="1.7" fill="#38b0ff"/><rect x="623.14" y="623.75" width="2.36" height="1.7" fill="#38b0ff"/><rect x="606.32" y="625.8" width="2.96" height="3.65" fill="#18e4ff"/><rect x="608.98" y="626.8" width="2.36" height="1.7" fill="#20e0ff"/><rect x="606.32" y="628.85" width="2.96" height="3.65" fill="#18e4ff"/><rect x="608.98" y="629.85" width="2.36" height="1.7" fill="#20e0ff"/><rect x="611.04" y="628.85" width="5.32" height="3.65" fill="#18e4ff"/><rect x="616.06" y="629.85" width="2.36" height="1.7" fill="#38b0ff"/><rect x="604.26" y="632.9" width="2.36" height="1.7" fill="#20e0ff"/><rect x="606.32" y="631.9" width="7.68" height="3.65" fill="#18e4ff"/><rect x="613.7" y="632.9" width="4.72" height="1.7" fill="#38b0ff"/><rect x="603.96" y="634.95" width="5.32" height="3.65" fill="#18e4ff"/><rect x="611.04" y="634.95" width="7.68" height="3.65" fill="#18e4ff"/><rect x="618.42" y="635.95" width="2.36" height="1.7" fill="#20e0ff"/><rect x="603.96" y="638" width="5.32" height="3.65" fill="#40ffc4"/><rect x="611.04" y="638" width="2.96" height="3.65" fill="#40ffc4"/><rect x="615.76" y="638" width="5.32" height="3.65" fill="#40ffc4"/><rect x="603.96" y="641.05" width="5.32" height="3.65" fill="#86ff7a"/><rect x="608.68" y="641.05" width="2.96" height="3.65" fill="#40ffc4"/><rect x="611.04" y="641.05" width="5.32" height="3.65" fill="#86ff7a"/><rect x="615.76" y="641.05" width="2.96" height="3.65" fill="#40ffc4"/><rect x="618.12" y="641.05" width="2.96" height="3.65" fill="#86ff7a"/><rect x="620.48" y="641.05" width="2.96" height="3.65" fill="#40ffc4"/><rect x="601.9" y="645.1" width="2.36" height="1.7" fill="#20e0ff"/><rect x="603.96" y="644.1" width="2.96" height="3.65" fill="#c4ff3c"/><rect x="606.32" y="644.1" width="7.68" height="3.65" fill="#86ff7a"/><rect x="613.4" y="644.1" width="2.96" height="3.65" fill="#40ffc4"/><rect x="615.76" y="644.1" width="2.96" height="3.65" fill="#18e4ff"/><rect x="618.12" y="644.1" width="5.32" height="3.65" fill="#86ff7a"/><rect x="622.84" y="644.1" width="2.96" height="3.65" fill="#40ffc4"/><rect x="603.96" y="647.15" width="2.96" height="3.65" fill="#fff200"/><rect x="606.32" y="647.15" width="2.96" height="3.65" fill="#c4ff3c"/><rect x="608.68" y="647.15" width="5.32" height="3.65" fill="#86ff7a"/><rect x="613.4" y="647.15" width="2.96" height="3.65" fill="#40ffc4"/><rect x="615.76" y="647.15" width="7.68" height="3.65" fill="#86ff7a"/><rect x="601.6" y="650.2" width="2.96" height="3.65" fill="#40ffc4"/><rect x="603.96" y="650.2" width="2.96" height="3.65" fill="#fff200"/><rect x="606.32" y="650.2" width="5.32" height="3.65" fill="#c4ff3c"/><rect x="611.04" y="650.2" width="5.32" height="3.65" fill="#86ff7a"/><rect x="615.76" y="650.2" width="5.32" height="3.65" fill="#c4ff3c"/><rect x="620.48" y="650.2" width="2.96" height="3.65" fill="#86ff7a"/><rect x="622.84" y="650.2" width="2.96" height="3.65" fill="#40ffc4"/><rect x="601.6" y="653.25" width="2.96" height="3.65" fill="#40ffc4"/><rect x="603.96" y="653.25" width="5.32" height="3.65" fill="#fff200"/><rect x="608.68" y="653.25" width="5.32" height="3.65" fill="#c4ff3c"/><rect x="613.4" y="653.25" width="2.96" height="3.65" fill="#fff200"/><rect x="615.76" y="653.25" width="2.96" height="3.65" fill="#ffc400"/><rect x="618.12" y="653.25" width="2.96" height="3.65" fill="#ff8a00"/><rect x="620.48" y="653.25" width="7.68" height="3.65" fill="#ffc400"/><rect x="603.96" y="656.3" width="2.96" height="3.65" fill="#c4ff3c"/><rect x="606.32" y="656.3" width="2.96" height="3.65" fill="#fff200"/><rect x="608.68" y="656.3" width="2.96" height="3.65" fill="#ffc400"/><rect x="611.04" y="656.3" width="2.96" height="3.65" fill="#fff200"/><rect x="613.4" y="656.3" width="2.96" height="3.65" fill="#ffc400"/><rect x="615.76" y="656.3" width="5.32" height="3.65" fill="#ff8a00"/><rect x="620.48" y="656.3" width="7.68" height="3.65" fill="#ffc400"/><rect x="606.32" y="659.35" width="2.96" height="3.65" fill="#86ff7a"/><rect x="608.68" y="659.35" width="7.68" height="3.65" fill="#ff8a00"/><rect x="615.76" y="659.35" width="2.96" height="3.65" fill="#ffc400"/><rect x="618.12" y="659.35" width="2.96" height="3.65" fill="#ff8a00"/><rect x="620.48" y="659.35" width="2.96" height="3.65" fill="#ffc400"/><rect x="622.84" y="659.35" width="5.32" height="3.65" fill="#86ff7a"/><rect x="608.68" y="662.4" width="2.96" height="3.65" fill="#ff8a00"/><rect x="611.04" y="662.4" width="2.96" height="3.65" fill="#ff4a00"/><rect x="613.4" y="662.4" width="5.32" height="3.65" fill="#ff8a00"/><rect x="618.12" y="662.4" width="2.96" height="3.65" fill="#ffc400"/><rect x="620.48" y="662.4" width="2.96" height="3.65" fill="#fff200"/><rect x="608.68" y="665.45" width="7.68" height="3.65" fill="#ffc400"/><rect x="615.76" y="665.45" width="2.96" height="3.65" fill="#fff200"/><rect x="618.12" y="665.45" width="5.32" height="3.65" fill="#86ff7a"/><rect x="613.4" y="668.5" width="2.96" height="3.65" fill="#86ff7a"/><rect x="615.76" y="668.5" width="2.96" height="3.65" fill="#fff200"/><rect x="613.4" y="671.55" width="2.96" height="3.65" fill="#86ff7a"/><rect x="615.76" y="671.55" width="2.96" height="3.65" fill="#fff200"/><rect x="646.2" y="656.3" width="5.32" height="3.65" fill="#40ffc4"/><rect x="646.2" y="659.35" width="2.96" height="3.65" fill="#c4ff3c"/><rect x="648.56" y="659.35" width="2.96" height="3.65" fill="#86ff7a"/><rect x="650.92" y="659.35" width="2.96" height="3.65" fill="#c4ff3c"/><rect x="646.2" y="662.4" width="2.96" height="3.65" fill="#ffc400"/><rect x="648.56" y="662.4" width="5.32" height="3.65" fill="#ff8a00"/><rect x="653.28" y="662.4" width="2.96" height="3.65" fill="#ffc400"/><rect x="646.2" y="665.45" width="7.68" height="3.65" fill="#ff8a00"/><rect x="653.28" y="665.45" width="2.96" height="3.65" fill="#ffc400"/><rect x="646.2" y="668.5" width="2.96" height="3.65" fill="#ffc400"/><rect x="648.56" y="668.5" width="2.96" height="3.65" fill="#ff8a00"/><rect x="650.92" y="668.5" width="5.32" height="3.65" fill="#ffc400"/><rect x="646.2" y="671.55" width="2.96" height="3.65" fill="#86ff7a"/><rect x="648.56" y="671.55" width="7.68" height="3.65" fill="#fff200"/><rect x="688.91" y="632.9" width="2.36" height="1.7" fill="#38b0ff"/><rect x="693.63" y="633.1" width="2.36" height="1.3" fill="#48b6ff"/><rect x="693.63" y="635.95" width="4.72" height="1.7" fill="#20e0ff"/><rect x="681.53" y="638" width="7.68" height="3.65" fill="#18e4ff"/><rect x="688.61" y="638" width="2.96" height="3.65" fill="#40ffc4"/><rect x="690.97" y="638" width="2.96" height="3.65" fill="#18e4ff"/><rect x="693.33" y="638" width="2.96" height="3.65" fill="#86ff7a"/><rect x="695.69" y="638" width="2.96" height="3.65" fill="#18e4ff"/><rect x="681.53" y="641.05" width="2.96" height="3.65" fill="#40ffc4"/><rect x="686.25" y="641.05" width="7.68" height="3.65" fill="#86ff7a"/><rect x="693.33" y="641.05" width="2.96" height="3.65" fill="#fff200"/><rect x="695.69" y="641.05" width="2.96" height="3.65" fill="#40ffc4"/><rect x="679.47" y="645.1" width="2.36" height="1.7" fill="#20e0ff"/><rect x="681.53" y="644.1" width="7.68" height="3.65" fill="#86ff7a"/><rect x="688.61" y="644.1" width="5.32" height="3.65" fill="#c4ff3c"/><rect x="693.33" y="644.1" width="2.96" height="3.65" fill="#ffc400"/><rect x="695.69" y="644.1" width="2.96" height="3.65" fill="#86ff7a"/><rect x="679.17" y="647.15" width="2.96" height="3.65" fill="#86ff7a"/><rect x="681.53" y="647.15" width="2.96" height="3.65" fill="#c4ff3c"/><rect x="683.89" y="647.15" width="2.96" height="3.65" fill="#fff200"/><rect x="686.25" y="647.15" width="2.96" height="3.65" fill="#c4ff3c"/><rect x="688.61" y="647.15" width="5.32" height="3.65" fill="#fff200"/><rect x="693.33" y="647.15" width="2.96" height="3.65" fill="#ff8a00"/><rect x="695.69" y="647.15" width="2.96" height="3.65" fill="#86ff7a"/><rect x="674.45" y="650.2" width="2.96" height="3.65" fill="#40ffc4"/><rect x="679.17" y="650.2" width="5.32" height="3.65" fill="#fff200"/><rect x="683.89" y="650.2" width="5.32" height="3.65" fill="#ffc400"/><rect x="688.61" y="650.2" width="5.32" height="3.65" fill="#fff200"/><rect x="693.33" y="650.2" width="2.96" height="3.65" fill="#ff8a00"/><rect x="695.69" y="650.2" width="2.96" height="3.65" fill="#c4ff3c"/><rect x="674.45" y="653.25" width="5.32" height="3.65" fill="#ffc400"/><rect x="679.17" y="653.25" width="2.96" height="3.65" fill="#ff8a00"/><rect x="681.53" y="653.25" width="2.96" height="3.65" fill="#ff4a00"/><rect x="683.89" y="653.25" width="5.32" height="3.65" fill="#f01000"/><rect x="688.61" y="653.25" width="2.96" height="3.65" fill="#ff4a00"/><rect x="690.97" y="653.25" width="2.96" height="3.65" fill="#fff200"/><rect x="693.33" y="653.25" width="2.96" height="3.65" fill="#ff4a00"/><rect x="695.69" y="653.25" width="2.96" height="3.65" fill="#ff8a00"/><rect x="698.05" y="653.25" width="2.96" height="3.65" fill="#c4ff3c"/><rect x="700.41" y="653.25" width="2.96" height="3.65" fill="#86ff7a"/><rect x="674.45" y="656.3" width="5.32" height="3.65" fill="#ffc400"/><rect x="679.17" y="656.3" width="2.96" height="3.65" fill="#ff4a00"/><rect x="681.53" y="656.3" width="7.68" height="3.65" fill="#f01000"/><rect x="688.61" y="656.3" width="2.96" height="3.65" fill="#ff4a00"/><rect x="690.97" y="656.3" width="2.96" height="3.65" fill="#ff8a00"/><rect x="693.33" y="656.3" width="2.96" height="3.65" fill="#ff4a00"/><rect x="695.69" y="656.3" width="2.96" height="3.65" fill="#ff8a00"/><rect x="698.05" y="656.3" width="2.96" height="3.65" fill="#c4ff3c"/><rect x="700.41" y="656.3" width="2.96" height="3.65" fill="#86ff7a"/><rect x="676.81" y="659.35" width="2.96" height="3.65" fill="#c4ff3c"/><rect x="679.17" y="659.35" width="17.12" height="3.65" fill="#ff4a00"/><rect x="695.69" y="659.35" width="2.96" height="3.65" fill="#ff8a00"/><rect x="679.17" y="662.4" width="7.68" height="3.65" fill="#ffc400"/><rect x="686.25" y="662.4" width="2.96" height="3.65" fill="#fff200"/><rect x="688.61" y="662.4" width="2.96" height="3.65" fill="#ffc400"/><rect x="690.97" y="662.4" width="2.96" height="3.65" fill="#ff8a00"/><rect x="693.33" y="662.4" width="5.32" height="3.65" fill="#ffc400"/><rect x="679.17" y="665.45" width="2.96" height="3.65" fill="#86ff7a"/><rect x="681.53" y="665.45" width="2.96" height="3.65" fill="#c4ff3c"/><rect x="688.61" y="665.45" width="2.96" height="3.65" fill="#86ff7a"/><rect x="690.97" y="665.45" width="2.96" height="3.65" fill="#ffc400"/><rect x="693.33" y="665.45" width="5.32" height="3.65" fill="#86ff7a"/><rect x="714.72" y="626.8" width="2.36" height="1.7" fill="#20e0ff"/><rect x="717.08" y="629.85" width="2.36" height="1.7" fill="#38b0ff"/><rect x="728.88" y="629.85" width="2.36" height="1.7" fill="#20e0ff"/><rect x="733.6" y="629.85" width="2.36" height="1.7" fill="#20e0ff"/><rect x="716.78" y="631.9" width="2.96" height="3.65" fill="#40ffc4"/><rect x="728.88" y="632.9" width="2.36" height="1.7" fill="#20e0ff"/><rect x="733.6" y="632.9" width="2.36" height="1.7" fill="#38b0ff"/><rect x="735.66" y="631.9" width="2.96" height="3.65" fill="#18e4ff"/><rect x="719.14" y="634.95" width="2.96" height="3.65" fill="#40ffc4"/><rect x="728.88" y="635.95" width="2.36" height="1.7" fill="#20e0ff"/><rect x="730.94" y="634.95" width="7.68" height="3.65" fill="#40ffc4"/><rect x="738.32" y="635.95" width="2.36" height="1.7" fill="#20e0ff"/><rect x="728.58" y="638" width="5.32" height="3.65" fill="#40ffc4"/><rect x="733.3" y="638" width="2.96" height="3.65" fill="#86ff7a"/><rect x="735.66" y="638" width="5.32" height="3.65" fill="#40ffc4"/><rect x="714.72" y="642.05" width="2.36" height="1.7" fill="#20e0ff"/><rect x="728.58" y="641.05" width="2.96" height="3.65" fill="#40ffc4"/><rect x="730.94" y="641.05" width="2.96" height="3.65" fill="#86ff7a"/><rect x="733.3" y="641.05" width="2.96" height="3.65" fill="#c4ff3c"/><rect x="735.66" y="641.05" width="2.96" height="3.65" fill="#86ff7a"/><rect x="738.02" y="641.05" width="2.96" height="3.65" fill="#40ffc4"/><rect x="714.42" y="644.1" width="2.96" height="3.65" fill="#40ffc4"/><rect x="716.78" y="644.1" width="2.96" height="3.65" fill="#18e4ff"/><rect x="728.58" y="644.1" width="2.96" height="3.65" fill="#40ffc4"/><rect x="730.94" y="644.1" width="2.96" height="3.65" fill="#86ff7a"/><rect x="733.3" y="644.1" width="2.96" height="3.65" fill="#c4ff3c"/><rect x="735.66" y="644.1" width="2.96" height="3.65" fill="#86ff7a"/><rect x="738.32" y="645.1" width="2.36" height="1.7" fill="#20e0ff"/><rect x="709.7" y="647.15" width="2.96" height="3.65" fill="#40ffc4"/><rect x="714.42" y="647.15" width="5.32" height="3.65" fill="#c4ff3c"/><rect x="719.14" y="647.15" width="2.96" height="3.65" fill="#40ffc4"/><rect x="728.58" y="647.15" width="2.96" height="3.65" fill="#40ffc4"/><rect x="730.94" y="647.15" width="2.96" height="3.65" fill="#86ff7a"/><rect x="733.3" y="647.15" width="2.96" height="3.65" fill="#c4ff3c"/><rect x="735.66" y="647.15" width="2.96" height="3.65" fill="#86ff7a"/><rect x="712.06" y="650.2" width="2.96" height="3.65" fill="#c4ff3c"/><rect x="714.42" y="650.2" width="5.32" height="3.65" fill="#fff200"/><rect x="719.14" y="650.2" width="2.96" height="3.65" fill="#86ff7a"/><rect x="721.5" y="650.2" width="5.32" height="3.65" fill="#40ffc4"/><rect x="728.58" y="650.2" width="2.96" height="3.65" fill="#40ffc4"/><rect x="730.94" y="650.2" width="2.96" height="3.65" fill="#86ff7a"/><rect x="733.3" y="650.2" width="2.96" height="3.65" fill="#fff200"/><rect x="735.66" y="650.2" width="5.32" height="3.65" fill="#ffc400"/><rect x="712.06" y="653.25" width="2.96" height="3.65" fill="#c4ff3c"/><rect x="714.42" y="653.25" width="5.32" height="3.65" fill="#fff200"/><rect x="719.14" y="653.25" width="2.96" height="3.65" fill="#c4ff3c"/><rect x="721.5" y="653.25" width="2.96" height="3.65" fill="#40ffc4"/><rect x="728.58" y="653.25" width="2.96" height="3.65" fill="#40ffc4"/><rect x="730.94" y="653.25" width="2.96" height="3.65" fill="#86ff7a"/><rect x="733.3" y="653.25" width="2.96" height="3.65" fill="#fff200"/><rect x="735.66" y="653.25" width="5.32" height="3.65" fill="#ff8a00"/><rect x="740.38" y="653.25" width="5.32" height="3.65" fill="#40ffc4"/><rect x="712.06" y="656.3" width="7.68" height="3.65" fill="#fff200"/><rect x="719.14" y="656.3" width="2.96" height="3.65" fill="#86ff7a"/><rect x="721.5" y="656.3" width="10.04" height="3.65" fill="#40ffc4"/><rect x="730.94" y="656.3" width="2.96" height="3.65" fill="#86ff7a"/><rect x="733.3" y="656.3" width="2.96" height="3.65" fill="#fff200"/><rect x="735.66" y="656.3" width="5.32" height="3.65" fill="#ff8a00"/><rect x="716.78" y="659.35" width="2.96" height="3.65" fill="#fff200"/><rect x="719.14" y="659.35" width="5.32" height="3.65" fill="#c4ff3c"/><rect x="723.86" y="659.35" width="2.96" height="3.65" fill="#fff200"/><rect x="726.22" y="659.35" width="2.96" height="3.65" fill="#ffc400"/><rect x="728.58" y="659.35" width="2.96" height="3.65" fill="#c4ff3c"/><rect x="730.94" y="659.35" width="2.96" height="3.65" fill="#86ff7a"/><rect x="733.3" y="659.35" width="2.96" height="3.65" fill="#ffc400"/><rect x="735.66" y="659.35" width="5.32" height="3.65" fill="#fff200"/><rect x="719.14" y="662.4" width="2.96" height="3.65" fill="#86ff7a"/><rect x="721.5" y="662.4" width="2.96" height="3.65" fill="#ff8a00"/><rect x="723.86" y="662.4" width="5.32" height="3.65" fill="#ff4a00"/><rect x="728.58" y="662.4" width="2.96" height="3.65" fill="#ff8a00"/><rect x="733.3" y="662.4" width="2.96" height="3.65" fill="#fff200"/><rect x="721.5" y="665.45" width="2.96" height="3.65" fill="#ffc400"/><rect x="723.86" y="665.45" width="5.32" height="3.65" fill="#ff4a00"/><rect x="728.58" y="665.45" width="2.96" height="3.65" fill="#ff8a00"/><rect x="733.3" y="665.45" width="2.96" height="3.65" fill="#fff200"/><rect x="721.5" y="668.5" width="5.32" height="3.65" fill="#ffc400"/><rect x="726.22" y="668.5" width="2.96" height="3.65" fill="#ff8a00"/><rect x="728.58" y="668.5" width="2.96" height="3.65" fill="#ffc400"/><rect x="721.5" y="671.55" width="10.04" height="3.65" fill="#ffc400"/><rect x="728.58" y="674.6" width="2.96" height="3.65" fill="#fff200"/><rect x="728.58" y="677.65" width="2.96" height="3.65" fill="#fff200"/><rect x="728.58" y="680.7" width="2.96" height="2.6" fill="#fff200"/><rect x="774.13" y="599.35" width="2.36" height="1.7" fill="#38b0ff"/><rect x="774.13" y="608.5" width="2.36" height="1.7" fill="#38b0ff"/><rect x="771.77" y="611.75" width="4.72" height="1.3" fill="#48b6ff"/><rect x="776.49" y="611.55" width="2.36" height="1.7" fill="#38b0ff"/><rect x="767.05" y="617.65" width="2.36" height="1.7" fill="#38b0ff"/><rect x="774.13" y="620.9" width="2.36" height="1.3" fill="#48b6ff"/><rect x="769.41" y="623.75" width="2.36" height="1.7" fill="#20e0ff"/><rect x="774.13" y="623.75" width="2.36" height="1.7" fill="#38b0ff"/><rect x="769.41" y="626.8" width="2.36" height="1.7" fill="#20e0ff"/><rect x="774.13" y="626.8" width="2.36" height="1.7" fill="#38b0ff"/><rect x="773.83" y="628.85" width="2.96" height="3.65" fill="#40ffc4"/><rect x="776.49" y="629.85" width="2.36" height="1.7" fill="#20e0ff"/><rect x="764.39" y="631.9" width="2.96" height="3.65" fill="#18e4ff"/><rect x="771.77" y="632.9" width="2.36" height="1.7" fill="#20e0ff"/><rect x="773.83" y="631.9" width="2.96" height="3.65" fill="#40ffc4"/><rect x="776.19" y="631.9" width="2.96" height="3.65" fill="#18e4ff"/><rect x="778.85" y="632.9" width="2.36" height="1.7" fill="#38b0ff"/><rect x="764.39" y="634.95" width="2.96" height="3.65" fill="#18e4ff"/><rect x="773.83" y="634.95" width="5.32" height="3.65" fill="#40ffc4"/><rect x="764.39" y="638" width="2.96" height="3.65" fill="#18e4ff"/><rect x="766.75" y="638" width="2.96" height="3.65" fill="#40ffc4"/><rect x="776.19" y="638" width="2.96" height="3.65" fill="#86ff7a"/><rect x="766.75" y="641.05" width="2.96" height="3.65" fill="#86ff7a"/><rect x="771.47" y="641.05" width="2.96" height="3.65" fill="#18e4ff"/><rect x="776.19" y="641.05" width="2.96" height="3.65" fill="#c4ff3c"/><rect x="762.03" y="644.1" width="2.96" height="3.65" fill="#18e4ff"/><rect x="766.75" y="644.1" width="2.96" height="3.65" fill="#c4ff3c"/><rect x="774.13" y="645.1" width="2.36" height="1.7" fill="#20e0ff"/><rect x="759.97" y="648.15" width="2.36" height="1.7" fill="#20e0ff"/><rect x="762.03" y="647.15" width="2.96" height="3.65" fill="#40ffc4"/><rect x="764.39" y="647.15" width="2.96" height="3.65" fill="#86ff7a"/><rect x="766.75" y="647.15" width="2.96" height="3.65" fill="#c4ff3c"/><rect x="769.11" y="647.15" width="2.96" height="3.65" fill="#86ff7a"/><rect x="776.49" y="648.15" width="2.36" height="1.7" fill="#20e0ff"/><rect x="762.03" y="650.2" width="2.96" height="3.65" fill="#86ff7a"/><rect x="764.39" y="650.2" width="2.96" height="3.65" fill="#ff8a00"/><rect x="766.75" y="650.2" width="2.96" height="3.65" fill="#c4ff3c"/><rect x="769.11" y="650.2" width="5.32" height="3.65" fill="#86ff7a"/><rect x="764.39" y="653.25" width="2.96" height="3.65" fill="#ff4a00"/><rect x="766.75" y="653.25" width="2.96" height="3.65" fill="#ff8a00"/><rect x="769.11" y="653.25" width="2.96" height="3.65" fill="#ffc400"/><rect x="771.47" y="653.25" width="2.96" height="3.65" fill="#fff200"/><rect x="773.83" y="653.25" width="2.96" height="3.65" fill="#ffc400"/><rect x="776.19" y="653.25" width="2.96" height="3.65" fill="#fff200"/><rect x="780.91" y="653.25" width="2.96" height="3.65" fill="#86ff7a"/><rect x="754.95" y="656.3" width="2.96" height="3.65" fill="#40ffc4"/><rect x="759.67" y="656.3" width="2.96" height="3.65" fill="#40ffc4"/><rect x="762.03" y="656.3" width="2.96" height="3.65" fill="#86ff7a"/><rect x="764.39" y="656.3" width="2.96" height="3.65" fill="#ff4a00"/><rect x="766.75" y="656.3" width="5.32" height="3.65" fill="#ff8a00"/><rect x="771.47" y="656.3" width="2.96" height="3.65" fill="#ffc400"/><rect x="773.83" y="656.3" width="5.32" height="3.65" fill="#fff200"/><rect x="754.95" y="659.35" width="2.96" height="3.65" fill="#40ffc4"/><rect x="759.67" y="659.35" width="2.96" height="3.65" fill="#fff200"/><rect x="762.03" y="659.35" width="2.96" height="3.65" fill="#ffc400"/><rect x="764.39" y="659.35" width="7.68" height="3.65" fill="#ff8a00"/><rect x="771.47" y="659.35" width="2.96" height="3.65" fill="#ffc400"/><rect x="759.67" y="662.4" width="7.68" height="3.65" fill="#ff8a00"/><rect x="766.75" y="662.4" width="5.32" height="3.65" fill="#ffc400"/><rect x="771.47" y="662.4" width="2.96" height="3.65" fill="#fff200"/><rect x="759.67" y="665.45" width="5.32" height="3.65" fill="#ff8a00"/><rect x="764.39" y="665.45" width="5.32" height="3.65" fill="#ffc400"/><rect x="769.11" y="665.45" width="2.96" height="3.65" fill="#86ff7a"/><rect x="759.67" y="668.5" width="2.96" height="3.65" fill="#ff8a00"/><rect x="762.03" y="668.5" width="5.32" height="3.65" fill="#c4ff3c"/><rect x="766.75" y="668.5" width="2.96" height="3.65" fill="#86ff7a"/><rect x="759.67" y="671.55" width="2.96" height="3.65" fill="#ffc400"/><rect x="762.03" y="671.55" width="7.68" height="3.65" fill="#86ff7a"/><rect x="759.67" y="674.6" width="2.96" height="3.65" fill="#c4ff3c"/><rect x="759.67" y="677.65" width="2.96" height="3.65" fill="#c4ff3c"/><rect x="759.67" y="680.7" width="2.96" height="2.6" fill="#c4ff3c"/><rect x="854.06" y="623.75" width="2.36" height="1.7" fill="#38b0ff"/><rect x="837.54" y="626.8" width="2.36" height="1.7" fill="#38b0ff"/><rect x="837.24" y="628.85" width="5.32" height="3.65" fill="#18e4ff"/><rect x="842.26" y="629.85" width="2.36" height="1.7" fill="#20e0ff"/><rect x="837.24" y="631.9" width="2.96" height="3.65" fill="#18e4ff"/><rect x="839.9" y="632.9" width="4.72" height="1.7" fill="#20e0ff"/><rect x="851.7" y="632.9" width="2.36" height="1.7" fill="#38b0ff"/><rect x="834.88" y="634.95" width="7.68" height="3.65" fill="#40ffc4"/><rect x="842.26" y="635.95" width="4.72" height="1.7" fill="#20e0ff"/><rect x="834.88" y="638" width="5.32" height="3.65" fill="#86ff7a"/><rect x="839.6" y="638" width="2.96" height="3.65" fill="#40ffc4"/><rect x="842.26" y="639" width="2.36" height="1.7" fill="#20e0ff"/><rect x="832.52" y="641.05" width="2.96" height="3.65" fill="#40ffc4"/><rect x="834.88" y="641.05" width="5.32" height="3.65" fill="#c4ff3c"/><rect x="839.6" y="641.05" width="5.32" height="3.65" fill="#86ff7a"/><rect x="846.68" y="641.05" width="2.96" height="3.65" fill="#18e4ff"/><rect x="849.34" y="642.05" width="2.36" height="1.7" fill="#20e0ff"/><rect x="832.52" y="644.1" width="2.96" height="3.65" fill="#86ff7a"/><rect x="834.88" y="644.1" width="5.32" height="3.65" fill="#c4ff3c"/><rect x="839.6" y="644.1" width="2.96" height="3.65" fill="#86ff7a"/><rect x="841.96" y="644.1" width="2.96" height="3.65" fill="#c4ff3c"/><rect x="844.32" y="644.1" width="2.96" height="3.65" fill="#86ff7a"/><rect x="830.16" y="647.15" width="2.96" height="3.65" fill="#40ffc4"/><rect x="832.52" y="647.15" width="5.32" height="3.65" fill="#c4ff3c"/><rect x="837.24" y="647.15" width="2.96" height="3.65" fill="#86ff7a"/><rect x="839.6" y="647.15" width="2.96" height="3.65" fill="#40ffc4"/><rect x="841.96" y="647.15" width="2.96" height="3.65" fill="#86ff7a"/><rect x="844.32" y="647.15" width="2.96" height="3.65" fill="#c4ff3c"/><rect x="846.98" y="648.15" width="2.36" height="1.7" fill="#20e0ff"/><rect x="827.8" y="650.2" width="2.96" height="3.65" fill="#40ffc4"/><rect x="830.16" y="650.2" width="2.96" height="3.65" fill="#c4ff3c"/><rect x="832.52" y="650.2" width="5.32" height="3.65" fill="#fff200"/><rect x="837.24" y="650.2" width="10.04" height="3.65" fill="#c4ff3c"/><rect x="830.16" y="653.25" width="2.96" height="3.65" fill="#f01000"/><rect x="832.52" y="653.25" width="14.76" height="3.65" fill="#fff200"/><rect x="846.68" y="653.25" width="2.96" height="3.65" fill="#c4ff3c"/><rect x="851.4" y="653.25" width="2.96" height="3.65" fill="#40ffc4"/><rect x="827.8" y="656.3" width="2.96" height="3.65" fill="#40ffc4"/><rect x="830.16" y="656.3" width="2.96" height="3.65" fill="#f01000"/><rect x="832.52" y="656.3" width="2.96" height="3.65" fill="#fff200"/><rect x="834.88" y="656.3" width="10.04" height="3.65" fill="#ffc400"/><rect x="844.32" y="656.3" width="5.32" height="3.65" fill="#fff200"/><rect x="849.04" y="656.3" width="2.96" height="3.65" fill="#c4ff3c"/><rect x="830.16" y="659.35" width="2.96" height="3.65" fill="#ffc400"/><rect x="832.52" y="659.35" width="2.96" height="3.65" fill="#fff200"/><rect x="834.88" y="659.35" width="10.04" height="3.65" fill="#ff8a00"/><rect x="844.32" y="659.35" width="2.96" height="3.65" fill="#ffc400"/><rect x="846.68" y="659.35" width="2.96" height="3.65" fill="#c4ff3c"/><rect x="832.52" y="662.4" width="2.96" height="3.65" fill="#c4ff3c"/><rect x="834.88" y="662.4" width="10.04" height="3.65" fill="#ff8a00"/><rect x="844.32" y="662.4" width="2.96" height="3.65" fill="#fff200"/><rect x="846.68" y="662.4" width="2.96" height="3.65" fill="#c4ff3c"/><rect x="834.88" y="665.45" width="10.04" height="3.65" fill="#ffc400"/><rect x="841.96" y="668.5" width="2.96" height="3.65" fill="#c4ff3c"/><rect x="841.96" y="671.55" width="2.96" height="3.65" fill="#c4ff3c"/><rect x="134" y="619" width="2.6" height="1.3" fill="#38b0ff"/><rect x="134" y="622.5" width="5" height="2.2" fill="#38b0ff"/><rect x="134" y="625.2" width="3" height="2.2" fill="#38b0ff"/><rect x="134" y="631.6" width="4.8" height="1.8" fill="#20e0ff"/><rect x="134" y="633.8" width="3" height="1.6" fill="#20e0ff"/><rect x="134" y="636.7" width="2.9" height="8.1" fill="#40ffc4"/><rect x="134" y="652.2" width="2.9" height="6.3" fill="#ffc400"/><rect x="134" y="658.5" width="2.9" height="2.3" fill="#fff200"/><rect x="146" y="652.4" width="2.4" height="3.6" fill="#18e4ff"/><rect x="313.9" y="609" width="2.4" height="1.8" fill="#38b0ff"/><rect x="356.1" y="614.9" width="2.9" height="1.3" fill="#38b0ff"/><rect x="356.1" y="598" width="2.9" height="1.6" fill="#38b0ff"/><rect x="408.25" y="648.25" width="2.3" height="1.7" fill="#40ffc4"/><rect x="410.5" y="650.5" width="2.3" height="6.3" fill="#fff200"/><rect x="410.5" y="656.6" width="2.3" height="1.8" fill="#40ffc4"/><rect x="415.25" y="652.4" width="2.2" height="5.6" fill="#40ffc4"/><rect x="415.25" y="660.5" width="2.2" height="2.2" fill="#40ffc4"/><rect x="417.4" y="648" width="2.2" height="1.9" fill="#40ffc4"/><rect x="419.9" y="652.4" width="2.2" height="3.7" fill="#40ffc4"/><rect x="419.9" y="658" width="2.2" height="2.5" fill="#40ffc4"/><rect x="429.25" y="610.1" width="2.7" height="1.7" fill="#38b0ff"/><rect x="427.4" y="587.6" width="2.5" height="1.4" fill="#38b0ff"/><rect x="490.9" y="638.25" width="2.2" height="1.7" fill="#20e0ff"/><rect x="514.25" y="587.6" width="2.5" height="1.3" fill="#38b0ff"/><rect x="547.4" y="602.4" width="2.5" height="1.7" fill="#38b0ff"/><rect x="641.9" y="635.25" width="2.5" height="1.5" fill="#20e0ff"/><rect x="639.4" y="652.4" width="2.5" height="3.7" fill="#40ffc4"/><rect x="646.5" y="641.4" width="2.5" height="1.3" fill="#20e0ff"/><rect x="651.25" y="639.25" width="2.5" height="1.8" fill="#20e0ff"/><rect x="651.25" y="641.75" width="4.3" height="1.8" fill="#20e0ff"/><rect x="656" y="644.9" width="2.5" height="1.8" fill="#20e0ff"/><rect x="658.5" y="643.9" width="2.5" height="1.1" fill="#20e0ff"/><rect x="660.9" y="656.1" width="2.2" height="1.9" fill="#40ffc4"/><rect x="656" y="660.5" width="2.5" height="2.2" fill="#40ffc4"/><rect x="660.9" y="611.5" width="4.7" height="1.2" fill="#38b0ff"/><rect x="665.6" y="616.1" width="2.5" height="2.5" fill="#38b0ff"/><rect x="663.1" y="618" width="3.1" height="1.5" fill="#38b0ff"/><rect x="665.6" y="620.75" width="4.4" height="2" fill="#1c7cff"/><rect x="663.1" y="623.6" width="5" height="3.1" fill="#38b0ff"/><rect x="667.9" y="626.75" width="2.1" height="2.5" fill="#20e0ff"/><rect x="663.1" y="629.25" width="2.5" height="2.5" fill="#38b0ff"/><rect x="667.9" y="630.25" width="2.1" height="2.5" fill="#20e0ff"/><rect x="698.4" y="622" width="2.4" height="2.5" fill="#1c7cff"/></g><g stroke="#262626" stroke-width="1" fill="none"><rect x="133.5" y="562.5" width="725" height="121"/><path d="M133.5 562.5v-8M133.5 683.5v8M251.5 562.5v-8M251.5 683.5v8M369.5 562.5v-8M369.5 683.5v8M487.5 562.5v-8M487.5 683.5v8M605.5 562.5v-8M605.5 683.5v8M723.5 562.5v-8M723.5 683.5v8M841.5 562.5v-8M841.5 683.5v8M133.5 683.5h-4M858.5 683.5h4M133.5 681.5h-4M858.5 681.5h4M133.5 679.5h-4M858.5 679.5h4M133.5 678.5h-4M858.5 678.5h4M133.5 676.5h-8M858.5 676.5h8M133.5 667.5h-4M858.5 667.5h4M133.5 661.5h-4M858.5 661.5h4M133.5 657.5h-4M858.5 657.5h4M133.5 654.5h-4M858.5 654.5h4M133.5 652.5h-4M858.5 652.5h4M133.5 649.5h-4M858.5 649.5h4M133.5 648.5h-4M858.5 648.5h4M133.5 646.5h-4M858.5 646.5h4M133.5 645.5h-8M858.5 645.5h8M133.5 635.5h-4M858.5 635.5h4M133.5 629.5h-4M858.5 629.5h4M133.5 625.5h-4M858.5 625.5h4M133.5 622.5h-4M858.5 622.5h4M133.5 620.5h-4M858.5 620.5h4M133.5 618.5h-4M858.5 618.5h4M133.5 616.5h-4M858.5 616.5h4M133.5 614.5h-4M858.5 614.5h4M133.5 613.5h-8M858.5 613.5h8M133.5 603.5h-4M858.5 603.5h4M133.5 598.5h-4M858.5 598.5h4M133.5 594.5h-4M858.5 594.5h4M133.5 591.5h-4M858.5 591.5h4M133.5 588.5h-4M858.5 588.5h4M133.5 586.5h-4M858.5 586.5h4M133.5 584.5h-4M858.5 584.5h4M133.5 583.5h-4M858.5 583.5h4M133.5 581.5h-8M858.5 581.5h8M133.5 571.5h-4M858.5 571.5h4M133.5 565.5h-4M858.5 565.5h4M133.5 562.5h-4M858.5 562.5h4"/></g><g fill="#262626" font-size="18"><text x="132.9" y="715.3" text-anchor="middle">23:00</text><text x="250.9" y="715.3" text-anchor="middle">23:10</text><text x="368.9" y="715.3" text-anchor="middle">23:20</text><text x="486.9" y="715.3" text-anchor="middle">23:30</text><text x="604.9" y="715.3" text-anchor="middle">23:40</text><text x="722.9" y="715.3" text-anchor="middle">23:50</text><text x="840.9" y="715.3" text-anchor="middle">00:00</text><text x="90.1" y="587.45" text-anchor="middle">10000</text><text x="90.1" y="619.09" text-anchor="middle">1000</text><text x="90.1" y="650.73" text-anchor="middle">100</text><text x="90.1" y="682.38" text-anchor="middle">10</text></g><g fill="#262626" font-size="20" text-anchor="middle"><text transform="translate(27.5 623) rotate(-90)">Comet</text><text transform="translate(51.8 623) rotate(-90)">Energy (eV)</text></g><rect x="875.5" y="562.5" width="23" height="121" fill="url(#jet)" stroke="#262626" stroke-width="1"/><text x="887" y="550.9" text-anchor="middle" font-size="18" fill="#262626">Flux</text><text x="905" y="689.8" font-size="18" fill="#262626">0</text><text x="905" y="657.99" font-size="18" fill="#262626">2</text><text x="905" y="624.58" font-size="18" fill="#262626">4</text><text x="905" y="591.97" font-size="18" fill="#262626">6</text><path d="M898.5 683.5h-1.5M898.5 651.5h-1.5M898.5 618.5h-1.5M898.5 586.5h-1.5" stroke="#262626" stroke-width="1" fill="none"/><text transform="translate(945.3 692.8) rotate(-90)" font-size="18" fill="#262626">e<tspan dx="-1.5">V</tspan><tspan font-size="14.4" dx="0.95" dy="-9.3">-1</tspan><tspan dx="1.2" dy="9.3">cm</tspan><tspan font-size="14.4" dx="1.7" dy="-9.3">-2</tspan><tspan dx="0.45" dy="9.3">sr</tspan><tspan font-size="14.4" dx="0.45" dy="-9.3">-1</tspan><tspan dx="0.45" dy="9.3">s</tspan><tspan font-size="14.4" dx="0.45" dy="-9.3">-1</tspan></text></g>
<text x="495.5" y="740" text-anchor="middle" font-size="20" fill="#262626">Time</text>
</svg>
</body></html>
